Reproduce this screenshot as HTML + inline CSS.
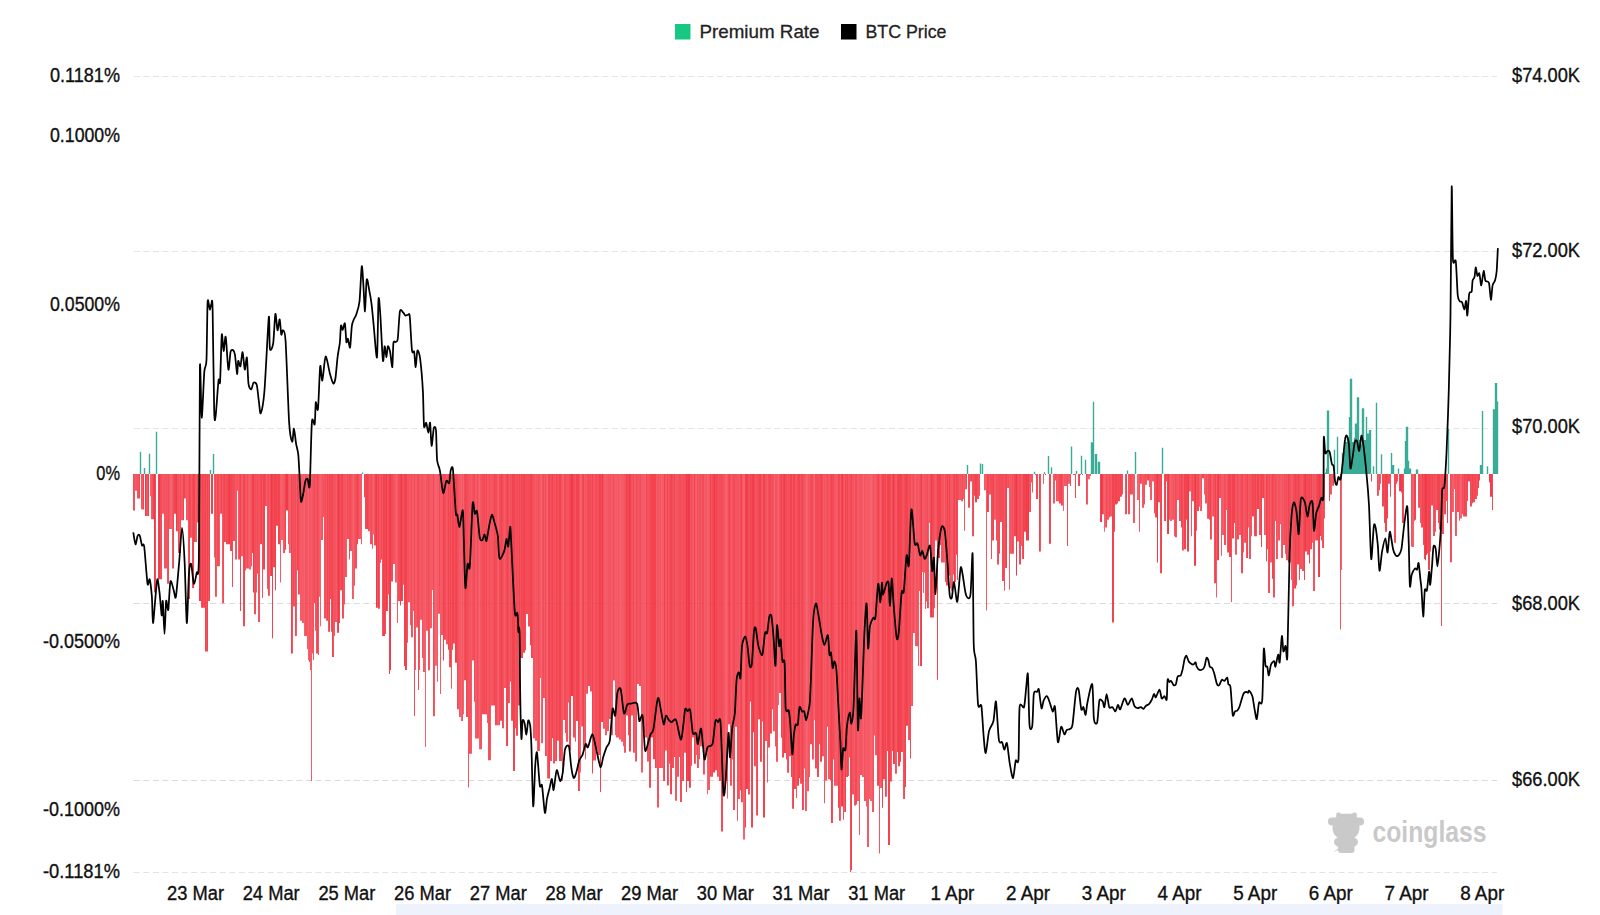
<!DOCTYPE html><html><head><meta charset="utf-8"><style>html,body{margin:0;padding:0;background:#fff;overflow:hidden}svg{display:block}text{font-family:"Liberation Sans",sans-serif}</style></head><body>
<svg width="1600" height="915" viewBox="0 0 1600 915">
<line x1="133.6" y1="76.5" x2="1497" y2="76.5" stroke="#e4e4e4" stroke-width="1" stroke-dasharray="6.25,3.3125"/>
<line x1="133.6" y1="251.5" x2="1497" y2="251.5" stroke="#e4e4e4" stroke-width="1" stroke-dasharray="6.25,3.3125"/>
<line x1="133.6" y1="428.5" x2="1497" y2="428.5" stroke="#e4e4e4" stroke-width="1" stroke-dasharray="6.25,3.3125"/>
<line x1="133.6" y1="603.5" x2="1497" y2="603.5" stroke="#e4e4e4" stroke-width="1" stroke-dasharray="6.25,3.3125"/>
<line x1="133.6" y1="780.5" x2="1497" y2="780.5" stroke="#e4e4e4" stroke-width="1" stroke-dasharray="6.25,3.3125"/>
<line x1="133.6" y1="872.5" x2="1497" y2="872.5" stroke="#e4e4e4" stroke-width="1" stroke-dasharray="6.25,3.3125"/>
<path d="M145 474.0h1v41.9h-1zM154 474.0h1v118.4h-1zM159 474.0h1v105.3h-1zM176 474.0h1v57.2h-1zM199 474.0h1v127.1h-1zM200 474.0h1v127.1h-1zM229 474.0h1v70.3h-1zM253 474.0h1v118.4h-1zM271 474.0h1v102.0h-1zM286 474.0h1v36.4h-1zM287 474.0h1v36.4h-1zM338 474.0h1v158.8h-1zM376 474.0h1v133.7h-1zM386 474.0h1v137.0h-1zM390 474.0h1v196.0h-1zM401 474.0h1v127.1h-1zM571 474.0h1v221.9h-1zM572 474.0h1v221.9h-1zM602 474.0h1v248.1h-1zM629 474.0h1v277.6h-1zM686 474.0h1v318.1h-1zM688 474.0h1v307.1h-1zM689 474.0h1v313.7h-1zM714 474.0h1v298.4h-1zM746 474.0h1v315.1h-1zM753 474.0h1v258.3h-1zM784 474.0h1v279.1h-1zM842 474.0h1v332.6h-1zM893 474.0h1v290.0h-1zM921 474.0h1v191.9h-1zM931 474.0h1v143.4h-1zM1016 474.0h1v101.5h-1zM1026 474.0h1v66.5h-1zM1028 474.0h1v66.5h-1zM1101 474.0h1v48.0h-1zM1102 474.0h1v40.3h-1zM1157 474.0h1v88.4h-1zM1168 474.0h1v60.0h-1zM1188 474.0h1v77.5h-1zM1195 474.0h1v91.7h-1zM1218 474.0h1v86.2h-1zM1305 474.0h1v77.5h-1zM1319 474.0h1v103.0h-1zM1400 474.0h1v17.3h-1zM1401 474.0h1v18.4h-1zM1425 474.0h1v86.2h-1zM1426 474.0h1v81.0h-1zM1489 474.0h1v8.6h-1zM1491 474.0h1v22.8h-1z" fill="#f03a49"/>
<path d="M139 474.0h1v24.4h-1zM143 474.0h1v35.6h-1zM148 474.0h1v41.9h-1zM153 474.0h1v45.2h-1zM158 474.0h1v105.3h-1zM174 474.0h1v39.7h-1zM175 474.0h1v39.7h-1zM183 474.0h1v46.3h-1zM184 474.0h1v24.4h-1zM189 474.0h1v125.0h-1zM193 474.0h1v114.0h-1zM194 474.0h1v68.1h-1zM198 474.0h1v48.5h-1zM202 474.0h1v133.7h-1zM205 474.0h1v177.4h-1zM207 474.0h1v177.4h-1zM209 474.0h1v127.1h-1zM211 474.0h1v39.7h-1zM212 474.0h1v39.7h-1zM221 474.0h1v39.7h-1zM224 474.0h1v68.1h-1zM228 474.0h1v70.3h-1zM231 474.0h1v76.9h-1zM240 474.0h1v137.0h-1zM244 474.0h1v152.3h-1zM252 474.0h1v79.1h-1zM261 474.0h1v70.3h-1zM263 474.0h1v95.5h-1zM264 474.0h1v95.5h-1zM272 474.0h1v164.3h-1zM274 474.0h1v93.3h-1zM275 474.0h1v116.2h-1zM276 474.0h1v51.7h-1zM278 474.0h1v70.3h-1zM279 474.0h1v70.3h-1zM285 474.0h1v75.8h-1zM291 474.0h1v179.6h-1zM297 474.0h1v96.5h-1zM317 474.0h1v179.6h-1zM327 474.0h1v146.8h-1zM329 474.0h1v157.7h-1zM332 474.0h1v182.9h-1zM339 474.0h1v149.0h-1zM341 474.0h1v116.2h-1zM342 474.0h1v144.6h-1zM357 474.0h1v70.3h-1zM364 474.0h1v23.3h-1zM366 474.0h1v55.0h-1zM367 474.0h1v55.0h-1zM375 474.0h1v71.4h-1zM378 474.0h1v134.8h-1zM383 474.0h1v162.1h-1zM384 474.0h1v162.1h-1zM389 474.0h1v200.0h-1zM400 474.0h1v131.5h-1zM404 474.0h1v192.0h-1zM405 474.0h1v196.0h-1zM406 474.0h1v196.0h-1zM443 474.0h1v186.4h-1zM448 474.0h1v175.7h-1zM450 474.0h1v193.3h-1zM452 474.0h1v175.7h-1zM453 474.0h1v169.5h-1zM455 474.0h1v188.7h-1zM456 474.0h1v188.7h-1zM465 474.0h1v206.3h-1zM486 474.0h1v240.3h-1zM494 474.0h1v231.6h-1zM501 474.0h1v246.7h-1zM507 474.0h1v271.9h-1zM512 474.0h1v246.7h-1zM513 474.0h1v297.0h-1zM514 474.0h1v297.0h-1zM519 474.0h1v231.6h-1zM521 474.0h1v183.9h-1zM523 474.0h1v178.8h-1zM524 474.0h1v178.8h-1zM530 474.0h1v171.3h-1zM531 474.0h1v183.9h-1zM549 474.0h1v304.5h-1zM552 474.0h1v264.3h-1zM556 474.0h1v286.9h-1zM559 474.0h1v286.9h-1zM560 474.0h1v286.9h-1zM570 474.0h1v276.5h-1zM576 474.0h1v247.0h-1zM577 474.0h1v247.0h-1zM578 474.0h1v317.0h-1zM583 474.0h1v274.4h-1zM592 474.0h1v299.5h-1zM599 474.0h1v280.9h-1zM600 474.0h1v318.1h-1zM626 474.0h1v241.6h-1zM627 474.0h1v241.6h-1zM630 474.0h1v277.6h-1zM646 474.0h1v263.4h-1zM651 474.0h1v263.4h-1zM652 474.0h1v263.4h-1zM653 474.0h1v285.3h-1zM654 474.0h1v285.3h-1zM655 474.0h1v294.0h-1zM664 474.0h1v307.1h-1zM667 474.0h1v311.5h-1zM671 474.0h1v320.3h-1zM674 474.0h1v283.1h-1zM687 474.0h1v307.1h-1zM694 474.0h1v289.7h-1zM710 474.0h1v302.8h-1zM713 474.0h1v298.4h-1zM716 474.0h1v296.2h-1zM729 474.0h1v250.3h-1zM741 474.0h1v328.2h-1zM745 474.0h1v353.4h-1zM747 474.0h1v315.1h-1zM750 474.0h1v227.7h-1zM752 474.0h1v353.4h-1zM759 474.0h1v245.2h-1zM760 474.0h1v287.8h-1zM763 474.0h1v343.5h-1zM764 474.0h1v343.5h-1zM770 474.0h1v259.4h-1zM781 474.0h1v263.8h-1zM783 474.0h1v283.4h-1zM790 474.0h1v282.3h-1zM791 474.0h1v303.1h-1zM793 474.0h1v334.8h-1zM794 474.0h1v315.1h-1zM798 474.0h1v311.8h-1zM799 474.0h1v304.2h-1zM802 474.0h1v335.9h-1zM821 474.0h1v287.8h-1zM831 474.0h1v349.0h-1zM838 474.0h1v333.7h-1zM841 474.0h1v332.6h-1zM845 474.0h1v338.1h-1zM847 474.0h1v303.1h-1zM851 474.0h1v396.0h-1zM878 474.0h1v311.8h-1zM882 474.0h1v333.7h-1zM883 474.0h1v305.3h-1zM885 474.0h1v322.8h-1zM887 474.0h1v276.9h-1zM888 474.0h1v370.9h-1zM889 474.0h1v370.9h-1zM897 474.0h1v278.0h-1zM898 474.0h1v292.2h-1zM899 474.0h1v292.2h-1zM900 474.0h1v287.8h-1zM901 474.0h1v278.0h-1zM905 474.0h1v312.9h-1zM906 474.0h1v251.7h-1zM907 474.0h1v251.7h-1zM937 474.0h1v205.8h-1zM938 474.0h1v84.0h-1zM939 474.0h1v84.0h-1zM940 474.0h1v70.9h-1zM947 474.0h1v111.4h-1zM949 474.0h1v101.5h-1zM954 474.0h1v108.1h-1zM956 474.0h1v80.8h-1zM966 474.0h1v15.2h-1zM971 474.0h1v7.5h-1zM975 474.0h1v28.3h-1zM976 474.0h1v28.3h-1zM987 474.0h1v38.1h-1zM993 474.0h1v66.5h-1zM1006 474.0h1v93.9h-1zM1014 474.0h1v62.2h-1zM1015 474.0h1v62.2h-1zM1023 474.0h1v85.1h-1zM1024 474.0h1v57.8h-1zM1025 474.0h1v57.8h-1zM1027 474.0h1v66.5h-1zM1039 474.0h1v77.5h-1zM1045 474.0h1v1.0h-1zM1049 474.0h1v69.8h-1zM1061 474.0h1v31.6h-1zM1079 474.0h1v11.9h-1zM1100 474.0h1v48.0h-1zM1112 474.0h1v148.5h-1zM1113 474.0h1v148.5h-1zM1115 474.0h1v30.5h-1zM1116 474.0h1v30.5h-1zM1118 474.0h1v27.2h-1zM1120 474.0h1v22.8h-1zM1126 474.0h1v40.3h-1zM1148 474.0h1v6.4h-1zM1156 474.0h1v43.6h-1zM1161 474.0h1v99.3h-1zM1165 474.0h1v46.9h-1zM1167 474.0h1v60.0h-1zM1181 474.0h1v53.4h-1zM1184 474.0h1v75.3h-1zM1185 474.0h1v75.3h-1zM1186 474.0h1v45.8h-1zM1187 474.0h1v77.5h-1zM1194 474.0h1v91.7h-1zM1203 474.0h1v4.3h-1zM1210 474.0h1v65.5h-1zM1215 474.0h1v109.2h-1zM1217 474.0h1v86.2h-1zM1228 474.0h1v78.6h-1zM1229 474.0h1v82.9h-1zM1230 474.0h1v82.9h-1zM1232 474.0h1v64.4h-1zM1233 474.0h1v64.4h-1zM1234 474.0h1v49.1h-1zM1242 474.0h1v99.3h-1zM1247 474.0h1v84.0h-1zM1252 474.0h1v42.5h-1zM1255 474.0h1v62.2h-1zM1257 474.0h1v34.9h-1zM1258 474.0h1v34.9h-1zM1261 474.0h1v73.1h-1zM1263 474.0h1v23.9h-1zM1266 474.0h1v87.3h-1zM1272 474.0h1v104.8h-1zM1288 474.0h1v88.4h-1zM1295 474.0h1v114.6h-1zM1298 474.0h1v90.6h-1zM1304 474.0h1v105.9h-1zM1309 474.0h1v89.5h-1zM1311 474.0h1v75.2h-1zM1317 474.0h1v66.5h-1zM1318 474.0h1v103.0h-1zM1320 474.0h1v62.1h-1zM1329 474.0h1v27.1h-1zM1333 474.0h1v11.8h-1zM1371 474.0h1v7.5h-1zM1383 474.0h1v32.6h-1zM1385 474.0h1v57.7h-1zM1386 474.0h1v57.7h-1zM1387 474.0h1v44.6h-1zM1396 474.0h1v9.7h-1zM1399 474.0h1v17.3h-1zM1402 474.0h1v49.0h-1zM1414 474.0h1v46.8h-1zM1415 474.0h1v45.7h-1zM1422 474.0h1v53.4h-1zM1424 474.0h1v85.0h-1zM1428 474.0h1v96.0h-1zM1429 474.0h1v96.0h-1zM1432 474.0h1v31.5h-1zM1437 474.0h1v35.9h-1zM1438 474.0h1v49.0h-1zM1439 474.0h1v55.6h-1zM1445 474.0h1v40.3h-1zM1447 474.0h1v49.0h-1zM1464 474.0h1v42.4h-1zM1467 474.0h1v27.1h-1zM1468 474.0h1v7.5h-1zM1469 474.0h1v7.5h-1zM1472 474.0h1v29.3h-1zM1475 474.0h1v25.0h-1zM1478 474.0h1v14.0h-1zM1479 474.0h1v6.4h-1zM1490 474.0h1v22.8h-1z" fill="#f2434f"/>
<path d="M133 474.0h1v36.4h-1zM155 474.0h1v118.4h-1zM160 474.0h1v105.3h-1zM161 474.0h1v105.3h-1zM168 474.0h1v109.7h-1zM173 474.0h1v94.4h-1zM178 474.0h1v79.1h-1zM180 474.0h1v79.1h-1zM190 474.0h1v63.8h-1zM192 474.0h1v114.0h-1zM197 474.0h1v48.5h-1zM203 474.0h1v133.7h-1zM204 474.0h1v133.7h-1zM215 474.0h1v122.8h-1zM217 474.0h1v92.2h-1zM218 474.0h1v92.2h-1zM223 474.0h1v129.3h-1zM226 474.0h1v70.3h-1zM227 474.0h1v70.3h-1zM230 474.0h1v76.9h-1zM232 474.0h1v112.9h-1zM233 474.0h1v67.0h-1zM234 474.0h1v67.0h-1zM239 474.0h1v85.6h-1zM243 474.0h1v152.3h-1zM247 474.0h1v94.4h-1zM255 474.0h1v140.3h-1zM257 474.0h1v99.8h-1zM260 474.0h1v70.3h-1zM265 474.0h1v32.1h-1zM268 474.0h1v121.7h-1zM270 474.0h1v102.0h-1zM273 474.0h1v93.3h-1zM277 474.0h1v51.7h-1zM293 474.0h1v132.6h-1zM295 474.0h1v162.1h-1zM298 474.0h1v120.6h-1zM314 474.0h1v129.3h-1zM325 474.0h1v144.6h-1zM330 474.0h1v125.0h-1zM331 474.0h1v157.7h-1zM337 474.0h1v158.8h-1zM347 474.0h1v64.9h-1zM349 474.0h1v85.6h-1zM350 474.0h1v76.9h-1zM356 474.0h1v94.4h-1zM358 474.0h1v64.9h-1zM365 474.0h1v55.0h-1zM368 474.0h1v57.2h-1zM371 474.0h1v70.3h-1zM381 474.0h1v85.6h-1zM385 474.0h1v159.9h-1zM388 474.0h1v120.6h-1zM391 474.0h1v107.5h-1zM392 474.0h1v107.5h-1zM398 474.0h1v127.1h-1zM399 474.0h1v127.1h-1zM402 474.0h1v127.1h-1zM411 474.0h1v163.2h-1zM414 474.0h1v242.0h-1zM417 474.0h1v153.4h-1zM418 474.0h1v216.0h-1zM428 474.0h1v196.3h-1zM433 474.0h1v242.2h-1zM439 474.0h1v139.7h-1zM444 474.0h1v165.7h-1zM445 474.0h1v165.7h-1zM457 474.0h1v235.3h-1zM464 474.0h1v206.3h-1zM466 474.0h1v243.0h-1zM467 474.0h1v243.0h-1zM473 474.0h1v186.4h-1zM474 474.0h1v227.7h-1zM477 474.0h1v264.4h-1zM482 474.0h1v240.3h-1zM483 474.0h1v240.3h-1zM484 474.0h1v240.3h-1zM489 474.0h1v286.2h-1zM495 474.0h1v251.2h-1zM496 474.0h1v251.2h-1zM499 474.0h1v251.2h-1zM500 474.0h1v246.7h-1zM502 474.0h1v254.3h-1zM506 474.0h1v271.9h-1zM508 474.0h1v229.1h-1zM510 474.0h1v207.8h-1zM516 474.0h1v261.8h-1zM517 474.0h1v261.8h-1zM522 474.0h1v183.9h-1zM525 474.0h1v176.3h-1zM526 474.0h1v139.9h-1zM527 474.0h1v139.9h-1zM528 474.0h1v152.5h-1zM529 474.0h1v152.5h-1zM532 474.0h1v183.9h-1zM538 474.0h1v276.9h-1zM543 474.0h1v224.1h-1zM545 474.0h1v281.9h-1zM548 474.0h1v304.5h-1zM551 474.0h1v286.9h-1zM554 474.0h1v289.5h-1zM557 474.0h1v266.8h-1zM564 474.0h1v245.9h-1zM565 474.0h1v259.1h-1zM569 474.0h1v276.5h-1zM573 474.0h1v263.4h-1zM574 474.0h1v263.4h-1zM582 474.0h1v252.5h-1zM587 474.0h1v219.7h-1zM588 474.0h1v212.1h-1zM589 474.0h1v212.1h-1zM590 474.0h1v217.5h-1zM595 474.0h1v286.4h-1zM596 474.0h1v276.5h-1zM598 474.0h1v280.9h-1zM601 474.0h1v248.1h-1zM613 474.0h1v206.6h-1zM628 474.0h1v261.2h-1zM633 474.0h1v278.7h-1zM636 474.0h1v287.5h-1zM640 474.0h1v212.1h-1zM649 474.0h1v313.7h-1zM650 474.0h1v313.7h-1zM669 474.0h1v289.7h-1zM670 474.0h1v320.3h-1zM672 474.0h1v294.0h-1zM679 474.0h1v283.1h-1zM680 474.0h1v327.9h-1zM683 474.0h1v307.1h-1zM685 474.0h1v278.7h-1zM691 474.0h1v291.8h-1zM697 474.0h1v294.0h-1zM700 474.0h1v272.2h-1zM702 474.0h1v272.2h-1zM703 474.0h1v300.6h-1zM712 474.0h1v302.8h-1zM715 474.0h1v296.2h-1zM717 474.0h1v302.8h-1zM719 474.0h1v307.1h-1zM720 474.0h1v307.1h-1zM721 474.0h1v357.4h-1zM722 474.0h1v357.4h-1zM728 474.0h1v250.3h-1zM733 474.0h1v335.9h-1zM734 474.0h1v335.9h-1zM740 474.0h1v316.2h-1zM748 474.0h1v320.6h-1zM751 474.0h1v353.4h-1zM754 474.0h1v292.2h-1zM757 474.0h1v341.4h-1zM758 474.0h1v245.2h-1zM768 474.0h1v273.6h-1zM769 474.0h1v273.6h-1zM772 474.0h1v235.3h-1zM780 474.0h1v219.0h-1zM785 474.0h1v279.1h-1zM786 474.0h1v285.6h-1zM788 474.0h1v298.7h-1zM797 474.0h1v311.8h-1zM801 474.0h1v309.7h-1zM810 474.0h1v270.3h-1zM811 474.0h1v270.3h-1zM812 474.0h1v285.6h-1zM815 474.0h1v294.4h-1zM816 474.0h1v294.4h-1zM817 474.0h1v303.1h-1zM818 474.0h1v303.1h-1zM819 474.0h1v270.3h-1zM820 474.0h1v287.8h-1zM822 474.0h1v282.3h-1zM827 474.0h1v252.8h-1zM830 474.0h1v306.4h-1zM832 474.0h1v349.0h-1zM833 474.0h1v285.6h-1zM839 474.0h1v346.8h-1zM850 474.0h1v398.0h-1zM855 474.0h1v331.5h-1zM856 474.0h1v330.4h-1zM877 474.0h1v311.8h-1zM884 474.0h1v305.3h-1zM890 474.0h1v307.5h-1zM892 474.0h1v276.9h-1zM894 474.0h1v290.0h-1zM904 474.0h1v325.0h-1zM909 474.0h1v265.9h-1zM910 474.0h1v284.5h-1zM913 474.0h1v159.1h-1zM920 474.0h1v191.9h-1zM927 474.0h1v134.2h-1zM930 474.0h1v143.4h-1zM932 474.0h1v143.5h-1zM933 474.0h1v143.5h-1zM945 474.0h1v108.1h-1zM953 474.0h1v100.4h-1zM957 474.0h1v105.9h-1zM958 474.0h1v26.1h-1zM962 474.0h1v27.2h-1zM968 474.0h1v33.8h-1zM969 474.0h1v33.8h-1zM973 474.0h1v62.2h-1zM974 474.0h1v21.7h-1zM977 474.0h1v25.0h-1zM979 474.0h1v21.7h-1zM988 474.0h1v38.1h-1zM990 474.0h1v20.6h-1zM991 474.0h1v85.1h-1zM992 474.0h1v66.5h-1zM996 474.0h1v66.5h-1zM998 474.0h1v90.6h-1zM999 474.0h1v79.7h-1zM1000 474.0h1v48.0h-1zM1001 474.0h1v48.0h-1zM1002 474.0h1v107.0h-1zM1003 474.0h1v107.0h-1zM1005 474.0h1v93.9h-1zM1008 474.0h1v14.1h-1zM1012 474.0h1v79.7h-1zM1017 474.0h1v67.6h-1zM1019 474.0h1v90.6h-1zM1020 474.0h1v90.6h-1zM1036 474.0h1v25.0h-1zM1037 474.0h1v25.0h-1zM1050 474.0h1v69.8h-1zM1055 474.0h1v6.4h-1zM1059 474.0h1v29.4h-1zM1060 474.0h1v29.4h-1zM1067 474.0h1v72.0h-1zM1070 474.0h1v11.9h-1zM1073 474.0h1v1.0h-1zM1075 474.0h1v23.9h-1zM1078 474.0h1v11.9h-1zM1086 474.0h1v30.5h-1zM1106 474.0h1v53.4h-1zM1109 474.0h1v43.6h-1zM1114 474.0h1v57.8h-1zM1117 474.0h1v29.4h-1zM1119 474.0h1v27.2h-1zM1121 474.0h1v22.8h-1zM1122 474.0h1v20.6h-1zM1130 474.0h1v20.6h-1zM1140 474.0h1v9.7h-1zM1145 474.0h1v10.8h-1zM1147 474.0h1v6.4h-1zM1154 474.0h1v39.2h-1zM1158 474.0h1v28.3h-1zM1159 474.0h1v28.3h-1zM1160 474.0h1v99.3h-1zM1164 474.0h1v46.9h-1zM1166 474.0h1v7.5h-1zM1175 474.0h1v63.3h-1zM1179 474.0h1v46.9h-1zM1182 474.0h1v76.4h-1zM1192 474.0h1v27.2h-1zM1197 474.0h1v37.0h-1zM1198 474.0h1v37.0h-1zM1202 474.0h1v4.3h-1zM1206 474.0h1v29.4h-1zM1208 474.0h1v44.7h-1zM1209 474.0h1v45.8h-1zM1213 474.0h1v42.5h-1zM1220 474.0h1v23.9h-1zM1224 474.0h1v70.9h-1zM1237 474.0h1v65.5h-1zM1241 474.0h1v99.3h-1zM1245 474.0h1v68.7h-1zM1253 474.0h1v42.5h-1zM1254 474.0h1v62.2h-1zM1260 474.0h1v61.1h-1zM1262 474.0h1v23.9h-1zM1267 474.0h1v75.3h-1zM1269 474.0h1v119.0h-1zM1273 474.0h1v123.4h-1zM1275 474.0h1v46.9h-1zM1284 474.0h1v70.9h-1zM1286 474.0h1v86.2h-1zM1289 474.0h1v88.4h-1zM1293 474.0h1v132.1h-1zM1294 474.0h1v114.6h-1zM1296 474.0h1v111.4h-1zM1297 474.0h1v90.6h-1zM1299 474.0h1v105.9h-1zM1303 474.0h1v97.1h-1zM1306 474.0h1v77.5h-1zM1307 474.0h1v80.8h-1zM1308 474.0h1v80.8h-1zM1316 474.0h1v66.5h-1zM1321 474.0h1v66.5h-1zM1323 474.0h1v74.1h-1zM1377 474.0h1v21.7h-1zM1379 474.0h1v16.2h-1zM1382 474.0h1v32.6h-1zM1384 474.0h1v49.0h-1zM1388 474.0h1v9.7h-1zM1389 474.0h1v9.7h-1zM1390 474.0h1v22.8h-1zM1394 474.0h1v68.7h-1zM1395 474.0h1v68.7h-1zM1403 474.0h1v49.0h-1zM1419 474.0h1v33.7h-1zM1423 474.0h1v70.9h-1zM1427 474.0h1v79.6h-1zM1430 474.0h1v77.4h-1zM1431 474.0h1v31.5h-1zM1434 474.0h1v62.1h-1zM1441 474.0h1v152.0h-1zM1442 474.0h1v59.9h-1zM1444 474.0h1v40.3h-1zM1446 474.0h1v27.1h-1zM1450 474.0h1v88.3h-1zM1457 474.0h1v38.1h-1zM1462 474.0h1v40.3h-1zM1465 474.0h1v42.4h-1zM1466 474.0h1v42.4h-1zM1470 474.0h1v32.6h-1zM1471 474.0h1v32.6h-1zM1473 474.0h1v28.2h-1zM1474 474.0h1v28.2h-1zM1477 474.0h1v21.7h-1zM1492 474.0h1v35.9h-1z" fill="#f34b58"/>
<path d="M134 474.0h1v36.4h-1zM136 474.0h1v16.8h-1zM137 474.0h1v24.4h-1zM138 474.0h1v24.4h-1zM141 474.0h1v35.3h-1zM146 474.0h1v41.9h-1zM147 474.0h1v41.9h-1zM152 474.0h1v45.2h-1zM163 474.0h1v39.7h-1zM164 474.0h1v94.4h-1zM165 474.0h1v94.4h-1zM166 474.0h1v94.4h-1zM167 474.0h1v109.7h-1zM177 474.0h1v57.2h-1zM186 474.0h1v46.3h-1zM188 474.0h1v125.0h-1zM201 474.0h1v133.7h-1zM206 474.0h1v177.4h-1zM208 474.0h1v127.1h-1zM220 474.0h1v39.7h-1zM225 474.0h1v68.1h-1zM236 474.0h1v85.6h-1zM237 474.0h1v16.8h-1zM245 474.0h1v96.5h-1zM251 474.0h1v92.2h-1zM254 474.0h1v140.3h-1zM256 474.0h1v118.4h-1zM258 474.0h1v147.9h-1zM259 474.0h1v147.9h-1zM262 474.0h1v123.9h-1zM267 474.0h1v115.1h-1zM284 474.0h1v79.1h-1zM288 474.0h1v70.3h-1zM292 474.0h1v179.6h-1zM294 474.0h1v132.6h-1zM299 474.0h1v120.6h-1zM305 474.0h1v162.1h-1zM306 474.0h1v162.1h-1zM309 474.0h1v188.0h-1zM312 474.0h1v179.6h-1zM313 474.0h1v186.0h-1zM315 474.0h1v156.7h-1zM316 474.0h1v179.6h-1zM318 474.0h1v181.0h-1zM322 474.0h1v65.9h-1zM323 474.0h1v43.0h-1zM324 474.0h1v144.6h-1zM328 474.0h1v157.7h-1zM333 474.0h1v182.9h-1zM334 474.0h1v162.1h-1zM335 474.0h1v147.9h-1zM340 474.0h1v116.2h-1zM343 474.0h1v144.6h-1zM344 474.0h1v130.4h-1zM345 474.0h1v103.1h-1zM348 474.0h1v64.9h-1zM351 474.0h1v76.9h-1zM354 474.0h1v111.8h-1zM355 474.0h1v94.4h-1zM369 474.0h1v57.2h-1zM370 474.0h1v70.3h-1zM374 474.0h1v71.4h-1zM377 474.0h1v133.7h-1zM379 474.0h1v134.8h-1zM380 474.0h1v88.9h-1zM382 474.0h1v162.1h-1zM387 474.0h1v137.0h-1zM393 474.0h1v90.0h-1zM394 474.0h1v90.0h-1zM403 474.0h1v110.8h-1zM407 474.0h1v168.7h-1zM408 474.0h1v128.2h-1zM409 474.0h1v128.2h-1zM419 474.0h1v196.0h-1zM421 474.0h1v145.8h-1zM422 474.0h1v184.1h-1zM426 474.0h1v156.7h-1zM427 474.0h1v156.5h-1zM429 474.0h1v196.3h-1zM442 474.0h1v161.1h-1zM447 474.0h1v170.3h-1zM449 474.0h1v193.3h-1zM451 474.0h1v214.7h-1zM454 474.0h1v169.5h-1zM458 474.0h1v235.3h-1zM462 474.0h1v246.9h-1zM468 474.0h1v313.5h-1zM469 474.0h1v279.7h-1zM470 474.0h1v279.7h-1zM472 474.0h1v186.4h-1zM480 474.0h1v275.3h-1zM481 474.0h1v275.3h-1zM485 474.0h1v240.3h-1zM488 474.0h1v286.2h-1zM491 474.0h1v231.6h-1zM492 474.0h1v231.6h-1zM493 474.0h1v231.6h-1zM503 474.0h1v254.3h-1zM505 474.0h1v214.0h-1zM511 474.0h1v246.7h-1zM515 474.0h1v254.3h-1zM518 474.0h1v231.6h-1zM520 474.0h1v183.9h-1zM533 474.0h1v264.3h-1zM534 474.0h1v264.3h-1zM536 474.0h1v266.8h-1zM539 474.0h1v276.9h-1zM542 474.0h1v269.3h-1zM550 474.0h1v286.9h-1zM553 474.0h1v289.5h-1zM558 474.0h1v266.8h-1zM561 474.0h1v286.9h-1zM566 474.0h1v267.8h-1zM567 474.0h1v267.8h-1zM568 474.0h1v228.5h-1zM575 474.0h1v267.8h-1zM579 474.0h1v317.0h-1zM585 474.0h1v285.3h-1zM591 474.0h1v217.5h-1zM593 474.0h1v286.4h-1zM597 474.0h1v276.5h-1zM603 474.0h1v254.7h-1zM608 474.0h1v256.9h-1zM609 474.0h1v244.9h-1zM610 474.0h1v244.9h-1zM618 474.0h1v263.4h-1zM624 474.0h1v278.7h-1zM625 474.0h1v278.7h-1zM631 474.0h1v241.6h-1zM632 474.0h1v241.6h-1zM637 474.0h1v209.9h-1zM638 474.0h1v209.9h-1zM639 474.0h1v212.1h-1zM647 474.0h1v287.5h-1zM648 474.0h1v287.5h-1zM657 474.0h1v333.4h-1zM658 474.0h1v333.4h-1zM660 474.0h1v294.0h-1zM665 474.0h1v276.5h-1zM673 474.0h1v294.0h-1zM676 474.0h1v326.8h-1zM677 474.0h1v302.8h-1zM678 474.0h1v302.8h-1zM681 474.0h1v327.9h-1zM682 474.0h1v307.1h-1zM684 474.0h1v278.7h-1zM690 474.0h1v313.7h-1zM699 474.0h1v285.3h-1zM706 474.0h1v280.9h-1zM711 474.0h1v302.8h-1zM718 474.0h1v302.8h-1zM723 474.0h1v315.9h-1zM724 474.0h1v315.9h-1zM730 474.0h1v311.8h-1zM732 474.0h1v285.6h-1zM735 474.0h1v252.8h-1zM736 474.0h1v252.8h-1zM737 474.0h1v346.8h-1zM738 474.0h1v325.0h-1zM749 474.0h1v320.6h-1zM755 474.0h1v292.2h-1zM756 474.0h1v341.4h-1zM761 474.0h1v287.8h-1zM765 474.0h1v267.0h-1zM766 474.0h1v267.0h-1zM771 474.0h1v259.4h-1zM773 474.0h1v257.2h-1zM775 474.0h1v272.5h-1zM776 474.0h1v287.8h-1zM779 474.0h1v219.0h-1zM782 474.0h1v283.4h-1zM787 474.0h1v298.7h-1zM789 474.0h1v282.3h-1zM792 474.0h1v334.8h-1zM795 474.0h1v315.1h-1zM796 474.0h1v323.9h-1zM800 474.0h1v309.7h-1zM803 474.0h1v335.9h-1zM804 474.0h1v294.4h-1zM808 474.0h1v317.3h-1zM824 474.0h1v329.3h-1zM826 474.0h1v306.4h-1zM828 474.0h1v305.3h-1zM834 474.0h1v311.8h-1zM843 474.0h1v345.7h-1zM846 474.0h1v303.1h-1zM848 474.0h1v302.0h-1zM849 474.0h1v283.4h-1zM852 474.0h1v320.6h-1zM853 474.0h1v320.6h-1zM859 474.0h1v361.0h-1zM860 474.0h1v300.9h-1zM861 474.0h1v300.9h-1zM864 474.0h1v327.1h-1zM873 474.0h1v338.1h-1zM876 474.0h1v281.2h-1zM879 474.0h1v379.6h-1zM881 474.0h1v314.0h-1zM895 474.0h1v299.8h-1zM902 474.0h1v278.0h-1zM903 474.0h1v325.0h-1zM908 474.0h1v265.9h-1zM912 474.0h1v232.1h-1zM916 474.0h1v172.2h-1zM917 474.0h1v172.2h-1zM919 474.0h1v117.1h-1zM924 474.0h1v98.8h-1zM925 474.0h1v135.0h-1zM926 474.0h1v127.6h-1zM934 474.0h1v134.3h-1zM936 474.0h1v66.5h-1zM941 474.0h1v88.4h-1zM942 474.0h1v88.4h-1zM943 474.0h1v88.4h-1zM946 474.0h1v111.4h-1zM948 474.0h1v101.5h-1zM950 474.0h1v114.6h-1zM955 474.0h1v108.1h-1zM960 474.0h1v26.1h-1zM964 474.0h1v56.7h-1zM970 474.0h1v7.5h-1zM972 474.0h1v62.2h-1zM978 474.0h1v25.0h-1zM989 474.0h1v20.6h-1zM997 474.0h1v90.6h-1zM1004 474.0h1v116.8h-1zM1007 474.0h1v14.1h-1zM1010 474.0h1v79.7h-1zM1018 474.0h1v67.6h-1zM1022 474.0h1v85.1h-1zM1029 474.0h1v38.1h-1zM1030 474.0h1v38.1h-1zM1031 474.0h1v8.6h-1zM1032 474.0h1v18.5h-1zM1035 474.0h1v1.0h-1zM1040 474.0h1v77.5h-1zM1056 474.0h1v27.2h-1zM1058 474.0h1v27.2h-1zM1062 474.0h1v31.6h-1zM1064 474.0h1v11.9h-1zM1074 474.0h1v1.0h-1zM1107 474.0h1v45.8h-1zM1110 474.0h1v42.5h-1zM1125 474.0h1v40.3h-1zM1128 474.0h1v40.3h-1zM1129 474.0h1v40.3h-1zM1131 474.0h1v20.6h-1zM1132 474.0h1v20.6h-1zM1139 474.0h1v57.8h-1zM1141 474.0h1v9.7h-1zM1143 474.0h1v33.8h-1zM1144 474.0h1v30.5h-1zM1149 474.0h1v13.0h-1zM1152 474.0h1v7.5h-1zM1155 474.0h1v43.6h-1zM1169 474.0h1v45.8h-1zM1173 474.0h1v45.8h-1zM1176 474.0h1v63.3h-1zM1177 474.0h1v26.1h-1zM1180 474.0h1v46.9h-1zM1189 474.0h1v17.4h-1zM1191 474.0h1v62.2h-1zM1193 474.0h1v27.2h-1zM1196 474.0h1v56.7h-1zM1201 474.0h1v37.0h-1zM1214 474.0h1v109.2h-1zM1219 474.0h1v23.9h-1zM1225 474.0h1v70.9h-1zM1227 474.0h1v78.6h-1zM1231 474.0h1v128.0h-1zM1235 474.0h1v80.8h-1zM1238 474.0h1v65.5h-1zM1240 474.0h1v61.1h-1zM1246 474.0h1v84.0h-1zM1249 474.0h1v85.1h-1zM1250 474.0h1v85.1h-1zM1251 474.0h1v62.2h-1zM1256 474.0h1v62.2h-1zM1259 474.0h1v61.1h-1zM1268 474.0h1v119.0h-1zM1271 474.0h1v88.4h-1zM1274 474.0h1v123.4h-1zM1276 474.0h1v85.1h-1zM1278 474.0h1v66.5h-1zM1279 474.0h1v66.5h-1zM1282 474.0h1v84.0h-1zM1285 474.0h1v79.7h-1zM1287 474.0h1v86.2h-1zM1290 474.0h1v88.4h-1zM1300 474.0h1v95.0h-1zM1301 474.0h1v95.0h-1zM1310 474.0h1v75.2h-1zM1313 474.0h1v117.0h-1zM1314 474.0h1v117.0h-1zM1322 474.0h1v74.0h-1zM1324 474.0h1v44.6h-1zM1330 474.0h1v20.6h-1zM1340 474.0h1v155.6h-1zM1397 474.0h1v7.5h-1zM1411 474.0h1v72.5h-1zM1418 474.0h1v33.7h-1zM1420 474.0h1v49.0h-1zM1421 474.0h1v53.4h-1zM1433 474.0h1v62.1h-1zM1435 474.0h1v57.7h-1zM1436 474.0h1v35.9h-1zM1440 474.0h1v55.6h-1zM1451 474.0h1v88.3h-1zM1454 474.0h1v15.1h-1zM1455 474.0h1v62.1h-1zM1458 474.0h1v38.1h-1zM1459 474.0h1v46.8h-1zM1463 474.0h1v42.4h-1zM1476 474.0h1v25.0h-1z" fill="#f45360"/>
<path d="M135 474.0h1v16.8h-1zM142 474.0h1v35.6h-1zM151 474.0h1v45.2h-1zM162 474.0h1v39.7h-1zM169 474.0h1v55.0h-1zM172 474.0h1v94.4h-1zM179 474.0h1v79.1h-1zM181 474.0h1v46.3h-1zM182 474.0h1v46.3h-1zM185 474.0h1v24.4h-1zM187 474.0h1v46.3h-1zM191 474.0h1v63.8h-1zM195 474.0h1v68.1h-1zM196 474.0h1v68.1h-1zM214 474.0h1v83.4h-1zM216 474.0h1v122.8h-1zM219 474.0h1v92.2h-1zM222 474.0h1v129.3h-1zM235 474.0h1v85.6h-1zM238 474.0h1v85.6h-1zM241 474.0h1v82.3h-1zM242 474.0h1v82.3h-1zM246 474.0h1v94.4h-1zM248 474.0h1v94.4h-1zM250 474.0h1v95.5h-1zM266 474.0h1v32.1h-1zM269 474.0h1v121.7h-1zM280 474.0h1v108.6h-1zM282 474.0h1v65.9h-1zM283 474.0h1v79.1h-1zM289 474.0h1v79.1h-1zM296 474.0h1v162.1h-1zM300 474.0h1v146.8h-1zM301 474.0h1v146.8h-1zM302 474.0h1v149.0h-1zM303 474.0h1v149.0h-1zM307 474.0h1v175.2h-1zM310 474.0h1v196.0h-1zM311 474.0h1v307.0h-1zM319 474.0h1v122.8h-1zM321 474.0h1v65.9h-1zM326 474.0h1v146.8h-1zM336 474.0h1v147.9h-1zM346 474.0h1v103.1h-1zM352 474.0h1v125.0h-1zM359 474.0h1v64.9h-1zM360 474.0h1v64.9h-1zM361 474.0h1v70.3h-1zM372 474.0h1v74.7h-1zM395 474.0h1v108.6h-1zM397 474.0h1v149.0h-1zM410 474.0h1v151.2h-1zM412 474.0h1v163.2h-1zM413 474.0h1v137.0h-1zM415 474.0h1v196.0h-1zM416 474.0h1v153.4h-1zM420 474.0h1v145.8h-1zM423 474.0h1v197.9h-1zM424 474.0h1v197.9h-1zM430 474.0h1v154.2h-1zM431 474.0h1v154.2h-1zM432 474.0h1v116.0h-1zM434 474.0h1v242.2h-1zM437 474.0h1v207.8h-1zM438 474.0h1v139.7h-1zM440 474.0h1v220.0h-1zM441 474.0h1v161.1h-1zM446 474.0h1v170.3h-1zM459 474.0h1v243.0h-1zM460 474.0h1v243.0h-1zM471 474.0h1v279.7h-1zM475 474.0h1v264.4h-1zM476 474.0h1v264.4h-1zM478 474.0h1v264.4h-1zM487 474.0h1v249.1h-1zM490 474.0h1v286.2h-1zM497 474.0h1v251.2h-1zM504 474.0h1v214.0h-1zM509 474.0h1v229.1h-1zM535 474.0h1v266.8h-1zM537 474.0h1v276.9h-1zM540 474.0h1v204.0h-1zM544 474.0h1v224.1h-1zM546 474.0h1v281.9h-1zM555 474.0h1v286.9h-1zM562 474.0h1v307.1h-1zM584 474.0h1v274.4h-1zM586 474.0h1v219.7h-1zM594 474.0h1v286.4h-1zM604 474.0h1v254.7h-1zM605 474.0h1v261.2h-1zM606 474.0h1v261.2h-1zM607 474.0h1v256.9h-1zM611 474.0h1v261.2h-1zM612 474.0h1v261.2h-1zM614 474.0h1v206.6h-1zM615 474.0h1v261.2h-1zM616 474.0h1v263.4h-1zM617 474.0h1v263.4h-1zM619 474.0h1v265.6h-1zM621 474.0h1v267.8h-1zM622 474.0h1v267.8h-1zM623 474.0h1v272.2h-1zM634 474.0h1v278.7h-1zM635 474.0h1v287.5h-1zM641 474.0h1v298.4h-1zM642 474.0h1v298.4h-1zM643 474.0h1v259.1h-1zM644 474.0h1v259.1h-1zM656 474.0h1v294.0h-1zM659 474.0h1v294.0h-1zM662 474.0h1v294.0h-1zM663 474.0h1v307.1h-1zM666 474.0h1v276.5h-1zM668 474.0h1v311.5h-1zM675 474.0h1v326.8h-1zM692 474.0h1v263.4h-1zM693 474.0h1v263.4h-1zM695 474.0h1v289.7h-1zM698 474.0h1v294.0h-1zM701 474.0h1v272.2h-1zM704 474.0h1v300.6h-1zM705 474.0h1v280.9h-1zM708 474.0h1v315.9h-1zM709 474.0h1v315.9h-1zM727 474.0h1v324.6h-1zM731 474.0h1v311.8h-1zM739 474.0h1v325.0h-1zM742 474.0h1v328.2h-1zM762 474.0h1v247.4h-1zM767 474.0h1v308.6h-1zM777 474.0h1v287.8h-1zM805 474.0h1v337.0h-1zM809 474.0h1v303.1h-1zM813 474.0h1v285.6h-1zM823 474.0h1v282.3h-1zM825 474.0h1v306.4h-1zM829 474.0h1v305.3h-1zM835 474.0h1v311.8h-1zM836 474.0h1v311.8h-1zM837 474.0h1v311.8h-1zM840 474.0h1v346.8h-1zM844 474.0h1v338.1h-1zM854 474.0h1v331.5h-1zM857 474.0h1v327.1h-1zM858 474.0h1v327.1h-1zM862 474.0h1v303.1h-1zM865 474.0h1v327.1h-1zM866 474.0h1v332.6h-1zM867 474.0h1v373.0h-1zM868 474.0h1v373.0h-1zM869 474.0h1v325.0h-1zM872 474.0h1v338.1h-1zM874 474.0h1v261.6h-1zM875 474.0h1v281.2h-1zM886 474.0h1v322.8h-1zM891 474.0h1v307.5h-1zM896 474.0h1v299.8h-1zM911 474.0h1v232.1h-1zM914 474.0h1v159.1h-1zM918 474.0h1v192.0h-1zM922 474.0h1v98.0h-1zM923 474.0h1v119.0h-1zM928 474.0h1v134.2h-1zM929 474.0h1v49.0h-1zM935 474.0h1v66.5h-1zM951 474.0h1v116.8h-1zM952 474.0h1v116.8h-1zM959 474.0h1v26.1h-1zM961 474.0h1v27.2h-1zM963 474.0h1v25.0h-1zM965 474.0h1v15.2h-1zM984 474.0h1v16.3h-1zM985 474.0h1v16.3h-1zM986 474.0h1v136.5h-1zM994 474.0h1v45.8h-1zM995 474.0h1v45.8h-1zM1009 474.0h1v115.7h-1zM1011 474.0h1v79.7h-1zM1013 474.0h1v79.7h-1zM1021 474.0h1v72.0h-1zM1043 474.0h1v9.7h-1zM1053 474.0h1v29.4h-1zM1054 474.0h1v29.4h-1zM1057 474.0h1v27.2h-1zM1065 474.0h1v11.9h-1zM1066 474.0h1v11.9h-1zM1068 474.0h1v9.7h-1zM1069 474.0h1v9.7h-1zM1080 474.0h1v1.0h-1zM1082 474.0h1v1.0h-1zM1087 474.0h1v30.5h-1zM1090 474.0h1v2.1h-1zM1103 474.0h1v40.3h-1zM1105 474.0h1v53.4h-1zM1108 474.0h1v45.8h-1zM1111 474.0h1v42.5h-1zM1133 474.0h1v49.1h-1zM1134 474.0h1v49.1h-1zM1142 474.0h1v33.8h-1zM1146 474.0h1v10.8h-1zM1150 474.0h1v26.1h-1zM1151 474.0h1v26.1h-1zM1153 474.0h1v7.5h-1zM1171 474.0h1v46.9h-1zM1172 474.0h1v45.8h-1zM1174 474.0h1v62.2h-1zM1178 474.0h1v26.1h-1zM1183 474.0h1v76.4h-1zM1190 474.0h1v17.4h-1zM1199 474.0h1v32.7h-1zM1204 474.0h1v20.6h-1zM1205 474.0h1v29.4h-1zM1207 474.0h1v44.7h-1zM1211 474.0h1v65.5h-1zM1216 474.0h1v123.4h-1zM1221 474.0h1v81.8h-1zM1222 474.0h1v61.1h-1zM1223 474.0h1v61.1h-1zM1226 474.0h1v35.9h-1zM1236 474.0h1v80.8h-1zM1239 474.0h1v61.1h-1zM1243 474.0h1v78.6h-1zM1244 474.0h1v68.7h-1zM1248 474.0h1v53.4h-1zM1264 474.0h1v61.1h-1zM1270 474.0h1v88.4h-1zM1277 474.0h1v85.1h-1zM1280 474.0h1v50.2h-1zM1281 474.0h1v84.0h-1zM1283 474.0h1v70.9h-1zM1291 474.0h1v105.9h-1zM1292 474.0h1v132.5h-1zM1302 474.0h1v97.1h-1zM1312 474.0h1v68.7h-1zM1315 474.0h1v66.5h-1zM1331 474.0h1v20.6h-1zM1332 474.0h1v11.8h-1zM1378 474.0h1v21.7h-1zM1380 474.0h1v9.7h-1zM1412 474.0h1v73.0h-1zM1443 474.0h1v59.9h-1zM1452 474.0h1v38.1h-1zM1456 474.0h1v62.1h-1z" fill="#f55b67"/>
<path d="M150 474.0h1v22.2h-1zM170 474.0h1v55.0h-1zM171 474.0h1v55.0h-1zM249 474.0h1v95.5h-1zM281 474.0h1v65.9h-1zM290 474.0h1v79.1h-1zM304 474.0h1v162.1h-1zM308 474.0h1v186.2h-1zM320 474.0h1v152.3h-1zM353 474.0h1v125.0h-1zM373 474.0h1v60.5h-1zM396 474.0h1v108.6h-1zM425 474.0h1v273.0h-1zM435 474.0h1v191.7h-1zM436 474.0h1v191.7h-1zM461 474.0h1v246.9h-1zM463 474.0h1v240.3h-1zM479 474.0h1v275.3h-1zM498 474.0h1v251.2h-1zM541 474.0h1v269.3h-1zM547 474.0h1v304.5h-1zM563 474.0h1v245.9h-1zM580 474.0h1v298.4h-1zM581 474.0h1v252.5h-1zM620 474.0h1v265.6h-1zM645 474.0h1v263.4h-1zM661 474.0h1v294.0h-1zM696 474.0h1v280.9h-1zM707 474.0h1v320.3h-1zM725 474.0h1v307.1h-1zM726 474.0h1v307.1h-1zM743 474.0h1v365.4h-1zM744 474.0h1v365.4h-1zM774 474.0h1v257.2h-1zM778 474.0h1v231.0h-1zM806 474.0h1v337.0h-1zM807 474.0h1v317.3h-1zM814 474.0h1v246.3h-1zM863 474.0h1v303.1h-1zM870 474.0h1v327.1h-1zM871 474.0h1v327.1h-1zM880 474.0h1v314.0h-1zM915 474.0h1v172.0h-1zM944 474.0h1v88.4h-1zM1063 474.0h1v37.0h-1zM1088 474.0h1v5.3h-1zM1089 474.0h1v5.3h-1zM1104 474.0h1v57.8h-1zM1137 474.0h1v26.1h-1zM1138 474.0h1v26.1h-1zM1170 474.0h1v46.9h-1zM1200 474.0h1v37.0h-1zM1212 474.0h1v42.5h-1zM1265 474.0h1v61.1h-1zM1341 474.0h1v96.0h-1zM1413 474.0h1v73.0h-1zM1453 474.0h1v38.1h-1zM1460 474.0h1v44.6h-1zM1461 474.0h1v44.6h-1z" fill="#f6636e"/>
<path d="M139.8 451.7h1.4v22.3h-1.4zM143.8 468.0h1.4v6.0h-1.4zM148.8 453.7h1.4v20.3h-1.4zM155.8 431.8h1.4v42.2h-1.4zM209.8 470.0h1.4v4.0h-1.4zM212.8 454.0h1.4v20.0h-1.4zM361.8 472.5h1.4v1.5h-1.4zM966.8 465.1h1.4v8.9h-1.4zM979.8 463.6h1.4v10.4h-1.4zM981.8 464.0h1.4v10.0h-1.4zM1033.8 471.7h1.4v2.3h-1.4zM1043.8 472.3h1.4v1.7h-1.4zM1047.8 456.0h1.4v18.0h-1.4zM1050.8 467.3h1.4v6.7h-1.4zM1070.8 446.6h1.4v27.4h-1.4zM1075.8 471.0h1.4v3.0h-1.4zM1080.8 455.7h1.4v18.3h-1.4zM1084.8 459.7h1.4v14.3h-1.4zM1090.8 442.2h1.4v31.8h-1.4zM1091.8 442.6h1.4v31.4h-1.4zM1092.8 401.8h1.4v72.2h-1.4zM1094.8 454.0h1.4v20.0h-1.4zM1095.8 454.0h1.4v20.0h-1.4zM1097.8 461.8h1.4v12.2h-1.4zM1098.8 461.8h1.4v12.2h-1.4zM1126.8 470.6h1.4v3.4h-1.4zM1134.8 452.0h1.4v22.0h-1.4zM1161.8 447.7h1.4v26.3h-1.4zM1324.8 472.7h1.4v1.3h-1.4zM1325.8 468.4h1.4v5.6h-1.4zM1326.8 410.4h1.4v63.6h-1.4zM1327.8 410.4h1.4v63.6h-1.4zM1333.8 449.8h1.4v24.2h-1.4zM1336.8 436.7h1.4v37.3h-1.4zM1341.8 453.1h1.4v20.9h-1.4zM1342.8 453.1h1.4v20.9h-1.4zM1343.8 450.9h1.4v23.1h-1.4zM1344.8 442.1h1.4v31.9h-1.4zM1345.8 442.1h1.4v31.9h-1.4zM1346.8 437.8h1.4v36.2h-1.4zM1347.8 437.8h1.4v36.2h-1.4zM1348.8 417.0h1.4v57.0h-1.4zM1349.8 378.7h1.4v95.3h-1.4zM1350.8 378.7h1.4v95.3h-1.4zM1351.8 442.1h1.4v31.9h-1.4zM1352.8 442.1h1.4v31.9h-1.4zM1353.8 437.8h1.4v36.2h-1.4zM1354.8 423.6h1.4v50.4h-1.4zM1355.8 423.6h1.4v50.4h-1.4zM1356.8 397.3h1.4v76.7h-1.4zM1357.8 397.3h1.4v76.7h-1.4zM1358.8 439.9h1.4v34.1h-1.4zM1359.8 439.9h1.4v34.1h-1.4zM1360.8 444.3h1.4v29.7h-1.4zM1361.8 408.3h1.4v65.7h-1.4zM1362.8 408.3h1.4v65.7h-1.4zM1363.8 439.9h1.4v34.1h-1.4zM1364.8 439.9h1.4v34.1h-1.4zM1365.8 417.0h1.4v57.0h-1.4zM1366.8 433.4h1.4v40.6h-1.4zM1367.8 433.4h1.4v40.6h-1.4zM1368.8 430.1h1.4v43.9h-1.4zM1369.8 430.1h1.4v43.9h-1.4zM1372.8 466.2h1.4v7.8h-1.4zM1375.8 402.8h1.4v71.2h-1.4zM1380.8 454.2h1.4v19.8h-1.4zM1390.8 453.1h1.4v20.9h-1.4zM1391.8 465.1h1.4v8.9h-1.4zM1392.8 465.1h1.4v8.9h-1.4zM1397.8 468.4h1.4v5.6h-1.4zM1403.8 468.4h1.4v5.6h-1.4zM1404.8 441.0h1.4v33.0h-1.4zM1405.8 426.8h1.4v47.2h-1.4zM1406.8 426.8h1.4v47.2h-1.4zM1407.8 460.7h1.4v13.3h-1.4zM1408.8 468.4h1.4v5.6h-1.4zM1409.8 468.4h1.4v5.6h-1.4zM1415.8 469.5h1.4v4.5h-1.4zM1416.8 469.5h1.4v4.5h-1.4zM1447.8 429.0h1.4v45.0h-1.4zM1479.8 465.1h1.4v8.9h-1.4zM1480.8 465.1h1.4v8.9h-1.4zM1481.8 411.1h1.4v62.9h-1.4zM1486.8 466.2h1.4v7.8h-1.4zM1492.8 409.3h1.4v64.7h-1.4zM1493.8 409.3h1.4v64.7h-1.4zM1494.8 383.1h1.4v90.9h-1.4zM1495.8 383.1h1.4v90.9h-1.4zM1496.8 401.5h1.4v72.5h-1.4z" fill="#3aab96"/>
<line x1="133.6" y1="603.5" x2="1497" y2="603.5" stroke="#000" stroke-opacity="0.035" stroke-width="1" stroke-dasharray="6.25,3.3125"/>
<line x1="133.6" y1="780.5" x2="1497" y2="780.5" stroke="#000" stroke-opacity="0.035" stroke-width="1" stroke-dasharray="6.25,3.3125"/>
<path fill="none" stroke="#000" stroke-width="1.75" stroke-linejoin="round" d="M133.3 532.3C133.6 533.9 134.9 543.9 135.5 544.3C136.0 544.8 137.1 536.7 137.7 535.6C138.2 534.4 139.3 534.3 139.8 535.6C140.4 536.9 141.4 544.0 142.0 545.4C142.6 546.9 143.5 541.4 144.2 546.5C144.9 551.6 146.8 579.3 147.5 583.7C148.2 588.0 149.1 577.5 149.7 579.3C150.3 581.0 151.4 590.9 151.9 596.8C152.3 602.6 152.5 622.4 153.0 623.0C153.4 623.6 154.6 607.0 155.1 601.1C155.7 595.3 156.7 580.5 157.3 579.3C157.9 578.1 158.9 587.6 159.5 592.4C160.1 597.2 161.3 614.2 161.7 615.4C162.1 616.5 162.4 598.7 162.8 601.1C163.2 603.6 164.1 633.9 164.5 633.9C165.0 633.9 165.6 604.4 166.1 601.1C166.6 597.9 167.7 612.5 168.3 609.9C168.8 607.3 169.7 584.1 170.4 581.5C171.2 578.9 173.0 588.2 173.7 590.2C174.4 592.3 175.2 600.6 175.9 596.8C176.6 593.0 178.4 571.0 179.2 561.8C180.0 552.6 181.3 527.9 182.0 527.9C182.8 527.9 184.0 549.1 184.6 561.8C185.3 574.5 186.2 621.5 186.8 623.0C187.4 624.5 188.4 580.6 189.0 572.7C189.6 564.9 190.6 562.5 191.2 564.0C191.8 565.4 193.1 582.5 193.8 583.7C194.6 584.8 196.0 576.2 196.7 572.7C197.3 569.2 198.4 584.8 198.9 557.4C199.3 530.1 199.6 386.1 199.9 367.4C200.3 348.8 201.1 417.1 201.7 417.7C202.3 418.3 203.7 379.5 204.3 371.8C205.0 364.1 206.1 369.1 206.5 359.8C206.9 350.5 207.2 308.6 207.6 301.9C208.0 295.2 209.3 309.2 209.8 309.5C210.3 309.8 210.9 304.2 211.3 304.0C211.7 303.9 212.2 294.1 212.6 308.4C213.0 322.7 213.7 396.9 214.2 411.1C214.6 425.4 215.1 419.6 215.7 415.5C216.3 411.4 217.9 385.1 218.5 380.5C219.1 376.0 219.6 387.8 220.1 381.6C220.5 375.5 221.3 338.7 221.8 334.6C222.3 330.6 223.0 350.7 223.6 351.0C224.1 351.3 225.1 334.4 225.7 336.8C226.4 339.3 227.7 367.6 228.4 369.6C229.0 371.7 230.0 354.8 230.5 352.1C231.1 349.5 232.1 349.7 232.7 349.9C233.3 350.2 234.3 351.1 234.9 354.3C235.5 357.5 236.7 373.1 237.1 374.0C237.5 374.9 237.8 361.9 238.2 360.9C238.6 359.9 239.8 367.5 240.4 366.3C241.0 365.2 242.0 351.7 242.6 352.1C243.2 352.6 244.2 368.9 244.8 369.6C245.3 370.3 246.4 355.7 246.9 357.6C247.4 359.5 247.9 379.6 248.5 383.8C249.1 388.1 250.6 389.4 251.3 389.3C252.0 389.1 252.8 383.3 253.5 382.7C254.2 382.1 256.0 382.3 256.8 384.9C257.5 387.5 258.4 398.6 259.0 402.4C259.5 406.2 260.0 414.8 260.7 413.3C261.4 411.9 263.3 404.3 264.4 391.5C265.5 378.7 268.1 322.8 268.8 317.2C269.5 311.5 269.3 345.4 269.9 348.9C270.5 352.3 272.4 348.1 273.2 343.4C273.9 338.7 274.8 315.6 275.4 313.9C275.9 312.1 277.0 329.5 277.5 330.3C278.1 331.0 279.2 318.8 279.7 319.3C280.2 319.9 280.8 333.2 281.3 334.6C281.7 336.1 282.4 329.4 283.0 330.3C283.6 331.1 284.8 329.0 285.6 341.2C286.4 353.4 288.3 408.7 289.1 422.1C290.0 435.5 291.5 440.9 292.2 441.7C292.8 442.6 293.4 428.3 293.9 428.6C294.5 428.9 295.5 440.4 296.1 443.9C296.7 447.4 297.8 449.6 298.3 454.9C298.8 460.1 299.6 476.9 299.9 483.1C300.3 489.4 300.6 500.2 301.0 501.7C301.5 503.2 302.6 496.8 303.2 494.0C303.8 491.3 304.8 483.0 305.4 480.9C306.0 478.9 307.0 478.2 307.6 478.7C308.2 479.3 309.2 492.9 309.8 485.3C310.3 477.7 311.2 430.2 311.9 422.1C312.5 413.9 314.2 426.9 314.7 424.3C315.2 421.6 315.4 404.4 315.8 402.4C316.2 400.4 317.4 413.8 318.0 409.0C318.6 404.2 319.6 370.1 320.2 366.3C320.7 362.6 321.6 381.9 322.3 380.5C323.1 379.2 324.6 357.4 325.6 356.5C326.6 355.6 329.0 370.4 330.0 374.0C331.0 377.6 332.6 383.0 333.3 383.5C334.0 384.0 334.9 381.7 335.5 378.0C336.0 374.4 337.1 360.8 337.7 356.2C338.2 351.5 339.4 347.1 339.8 343.1C340.3 339.0 340.6 327.3 340.9 325.6C341.3 323.8 342.2 330.2 342.7 329.9C343.2 329.7 344.4 321.8 344.9 323.4C345.4 325.0 346.0 339.9 346.4 342.0C346.8 344.0 347.4 338.0 347.9 338.7C348.4 339.4 349.6 349.2 350.1 347.4C350.6 345.7 351.3 329.4 351.9 325.6C352.4 321.8 353.5 320.5 354.0 319.0C354.6 317.6 355.5 317.0 356.2 314.6C357.0 312.3 358.8 307.9 359.5 301.5C360.2 295.1 361.2 269.2 361.7 266.6C362.2 263.9 362.8 275.9 363.2 281.9C363.7 287.8 364.5 311.7 365.0 311.4C365.4 311.1 366.1 282.4 366.7 279.7C367.3 276.9 368.7 287.4 369.3 290.6C370.0 293.8 370.9 299.1 371.5 303.7C372.1 308.4 373.0 318.4 373.7 325.6C374.4 332.7 376.4 360.8 377.0 357.3C377.6 353.8 378.1 305.0 378.5 299.3C379.0 293.7 379.7 306.5 380.3 314.6C380.9 322.8 382.3 356.3 382.9 360.5C383.5 364.8 384.2 346.8 384.6 346.3C385.1 345.9 386.0 357.3 386.4 357.3C386.8 357.3 387.4 347.1 387.9 346.3C388.4 345.6 389.5 349.0 390.1 351.8C390.7 354.6 391.9 368.3 392.3 367.1C392.7 365.9 393.0 346.4 393.4 343.1C393.8 339.7 395.0 342.6 395.6 342.0C396.2 341.4 397.2 342.8 397.8 338.7C398.3 334.6 399.2 314.9 399.9 311.4C400.7 307.9 402.5 311.9 403.2 312.5C404.0 313.0 404.7 315.4 405.4 315.7C406.1 316.0 407.7 314.5 408.3 314.6C408.8 314.8 409.3 312.0 409.8 316.8C410.3 321.6 411.4 346.0 412.0 350.7C412.6 355.4 413.7 349.6 414.2 351.8C414.6 354.0 415.2 367.2 415.7 367.1C416.1 367.0 416.8 351.9 417.4 350.7C418.0 349.5 419.3 353.0 420.1 358.4C420.8 363.8 422.4 382.1 422.9 391.1C423.4 400.2 423.6 421.9 424.0 426.1C424.4 430.3 425.6 422.0 426.2 422.8C426.8 423.7 427.8 432.7 428.4 432.7C428.9 432.7 429.7 421.1 430.1 422.8C430.5 424.6 431.1 445.1 431.6 445.8C432.1 446.5 433.2 430.3 433.8 428.3C434.4 426.3 435.6 426.3 436.0 430.5C436.4 434.7 436.6 454.7 437.1 460.0C437.6 465.3 439.2 466.5 439.8 470.0C440.5 473.5 441.5 483.3 442.0 486.4C442.5 489.5 443.0 493.7 443.6 493.0C444.1 492.2 445.6 482.2 446.4 480.9C447.2 479.6 448.7 484.6 449.2 483.1C449.8 481.7 450.3 471.7 450.8 470.0C451.3 468.3 452.3 464.3 453.0 470.0C453.6 475.7 455.2 506.6 455.8 512.6C456.4 518.6 456.8 512.9 457.3 514.8C457.8 516.7 458.8 527.4 459.5 526.8C460.2 526.2 462.2 508.4 462.8 510.4C463.4 512.5 463.5 531.8 463.9 542.1C464.2 552.5 464.9 585.1 465.4 588.0C465.9 590.9 467.0 566.9 467.6 564.0C468.2 561.1 469.1 574.2 469.8 566.2C470.5 558.2 472.0 510.9 472.6 503.9C473.3 496.9 474.2 512.7 474.8 513.7C475.4 514.7 476.3 508.3 477.0 511.5C477.7 514.7 479.1 534.0 479.8 537.8C480.6 541.5 481.8 540.4 482.5 539.9C483.1 539.5 484.1 534.3 484.6 534.5C485.2 534.6 485.8 542.1 486.4 541.0C487.0 540.0 488.3 530.3 489.0 526.8C489.7 523.3 491.1 515.4 491.9 514.8C492.6 514.2 493.7 519.7 494.5 522.5C495.3 525.2 497.1 530.8 497.8 535.6C498.4 540.4 498.6 556.5 499.5 558.5C500.4 560.6 503.4 553.5 504.3 550.9C505.2 548.3 506.0 539.4 506.5 538.9C507.0 538.3 507.8 548.1 508.3 546.5C508.7 544.9 509.8 527.1 510.2 526.8C510.6 526.5 510.7 533.0 511.3 544.3C511.9 555.7 514.0 602.9 514.8 612.1C515.6 621.3 516.9 610.5 517.4 613.2C517.9 615.8 518.4 629.8 518.5 631.7C518.6 633.7 518.0 627.6 518.1 627.7C518.2 627.8 519.3 625.0 519.6 632.7C519.9 640.4 519.9 671.4 520.1 685.5C520.3 699.6 521.0 733.6 521.4 738.3C521.7 743.0 522.2 722.7 522.6 720.7C523.1 718.7 524.1 721.4 524.6 723.2C525.1 725.1 525.9 734.9 526.4 734.5C526.9 734.2 527.7 721.9 528.2 720.7C528.7 719.5 529.7 722.4 530.2 725.7C530.6 729.1 531.0 735.1 531.4 745.9C531.8 756.6 532.7 803.5 533.2 806.2C533.7 808.9 534.7 773.1 535.2 766.0C535.7 758.8 536.4 750.1 537.0 752.7C537.6 755.3 539.2 781.1 539.8 785.5C540.5 789.9 541.4 781.9 542.0 785.5C542.7 789.2 544.2 811.1 544.9 812.8C545.5 814.6 546.4 802.0 547.0 798.6C547.7 795.3 549.0 790.3 549.7 787.7C550.3 785.1 551.3 778.7 551.9 779.0C552.4 779.3 553.0 791.1 553.6 789.9C554.2 788.7 555.8 771.4 556.7 770.2C557.5 769.1 559.3 780.9 560.2 781.1C561.0 781.4 562.1 776.6 562.8 772.4C563.4 768.2 564.2 753.0 565.0 749.5C565.8 746.0 568.1 744.0 568.9 746.2C569.7 748.4 570.5 761.6 571.1 765.8C571.7 770.1 573.0 777.0 573.7 777.9C574.4 778.7 575.6 774.7 576.3 772.4C577.1 770.1 578.4 762.7 579.2 760.4C580.0 758.1 581.6 757.1 582.5 754.9C583.3 752.7 585.0 745.0 585.7 744.0C586.5 743.0 587.0 748.6 587.9 747.3C588.8 746.0 591.3 734.3 592.3 734.2C593.3 734.0 594.5 741.8 595.6 746.2C596.7 750.5 599.4 765.5 600.4 766.9C601.4 768.4 602.4 759.7 603.2 757.1C604.0 754.5 605.6 749.5 606.5 747.3C607.4 745.1 609.0 745.8 609.8 740.7C610.6 735.6 611.9 712.4 612.6 709.0C613.4 705.7 614.6 717.8 615.2 715.6C615.9 713.4 616.7 696.1 617.4 692.6C618.2 689.1 619.8 686.6 620.7 689.3C621.6 692.1 623.1 711.3 624.0 713.4C624.9 715.4 626.3 706.0 627.3 704.6C628.2 703.3 629.7 703.7 631.0 703.6C632.3 703.4 636.0 701.2 637.1 703.6C638.2 705.9 638.6 719.4 639.3 721.0C640.0 722.6 641.8 711.9 642.6 715.6C643.3 719.2 644.3 743.8 644.8 748.4C645.2 752.9 645.6 751.2 646.3 749.5C647.0 747.7 649.3 738.0 650.2 735.2C651.2 732.5 652.5 733.6 653.5 728.7C654.5 723.7 656.8 700.4 657.9 698.1C658.9 695.8 660.4 707.7 661.1 711.2C661.9 714.7 663.1 723.7 663.8 724.3C664.4 724.9 665.3 716.2 666.0 715.6C666.6 715.0 668.0 719.1 668.8 719.9C669.6 720.8 670.7 722.1 671.6 722.1C672.6 722.1 674.8 717.6 676.0 719.9C677.2 722.3 679.8 739.0 680.8 739.6C681.8 740.2 682.9 728.4 683.4 724.3C684.0 720.2 684.6 710.8 685.2 709.0C685.8 707.3 687.1 711.1 687.8 711.2C688.5 711.3 689.5 707.2 690.2 710.1C690.9 713.0 692.1 730.0 692.8 733.1C693.6 736.1 695.4 731.6 696.1 733.1C696.8 734.5 697.2 744.6 697.9 744.0C698.5 743.4 700.3 726.6 701.1 728.7C702.0 730.7 703.6 756.8 704.4 759.3C705.3 761.8 706.4 749.3 707.5 747.3C708.6 745.2 711.5 747.5 712.5 744.0C713.6 740.5 714.6 724.0 715.4 721.0C716.1 718.1 717.3 721.8 718.0 722.1C718.7 722.4 719.9 713.8 720.6 723.2C721.3 732.7 722.8 785.4 723.4 793.2C724.1 800.9 725.0 789.2 725.6 781.1C726.3 773.1 727.9 736.2 728.5 733.1C729.1 729.9 729.5 758.1 730.0 757.4C730.5 756.7 731.5 733.8 732.2 727.9C732.8 722.1 734.2 720.1 734.8 713.7C735.4 707.3 736.0 685.5 736.6 680.0C737.1 674.5 738.2 672.6 738.7 672.3C739.3 672.1 740.1 681.3 740.5 677.8C740.9 674.3 741.4 651.7 742.0 646.1C742.7 640.6 744.6 636.3 745.3 636.3C746.0 636.3 746.9 642.2 747.5 646.1C748.1 650.1 749.1 663.5 749.7 665.8C750.3 668.1 751.3 668.3 751.9 663.6C752.4 658.9 753.5 635.5 754.0 630.8C754.6 626.2 755.2 626.6 755.8 628.6C756.4 630.7 757.5 642.6 758.4 646.1C759.3 649.6 761.5 656.6 762.3 654.9C763.2 653.1 764.3 635.9 765.0 633.0C765.6 630.1 766.6 635.2 767.2 633.0C767.7 630.8 768.8 618.8 769.3 616.6C769.9 614.4 770.9 613.6 771.5 616.6C772.1 619.7 773.2 633.0 773.7 639.6C774.2 646.1 775.0 667.7 775.5 665.8C775.9 663.9 776.5 628.0 777.0 625.4C777.5 622.7 778.7 644.2 779.2 646.1C779.7 648.0 780.3 637.5 780.7 639.6C781.1 641.6 781.9 658.4 782.5 661.4C783.0 664.5 784.2 656.3 784.6 662.5C785.1 668.8 785.2 701.9 785.7 708.3C786.3 714.6 788.0 708.7 788.6 710.4C789.2 712.2 789.6 715.5 790.1 721.4C790.6 727.2 791.8 752.3 792.3 754.2C792.8 756.0 793.4 739.5 793.8 735.6C794.3 731.6 795.0 726.1 795.6 724.6C796.1 723.2 797.2 727.0 797.8 724.6C798.3 722.3 798.9 708.9 799.5 707.2C800.1 705.4 801.5 710.9 802.1 711.5C802.8 712.1 803.8 710.4 804.3 711.5C804.8 712.7 805.5 720.3 806.1 720.3C806.6 720.3 807.8 713.9 808.3 711.5C808.7 709.2 809.4 707.0 809.8 702.8C810.1 698.6 810.4 690.8 810.9 680.0C811.3 669.2 812.4 632.3 813.1 622.1C813.7 611.9 815.2 604.4 815.9 603.5C816.6 602.6 817.7 611.3 818.5 615.5C819.3 619.7 821.0 631.3 821.8 635.2C822.6 639.1 823.6 645.0 824.4 645.0C825.2 645.0 827.3 633.9 827.9 635.2C828.6 636.5 829.0 652.5 829.5 654.9C829.9 657.2 830.5 650.9 831.0 652.7C831.4 654.4 832.3 666.8 832.7 668.0C833.2 669.1 834.0 661.1 834.5 661.4C835.0 661.7 836.0 664.6 836.4 670.2C836.9 675.7 837.7 693.2 838.2 702.8C838.7 712.4 839.9 733.2 840.4 742.1C840.8 751.0 841.1 768.6 841.5 769.5C841.9 770.3 842.7 751.3 843.2 748.7C843.7 746.1 844.9 752.7 845.4 749.8C845.9 746.9 846.4 731.8 846.9 726.8C847.5 721.9 849.2 713.1 849.8 712.6C850.4 712.2 850.8 724.1 851.3 723.6C851.8 723.0 852.8 720.6 853.5 708.3C854.2 695.9 855.8 628.1 856.3 630.8C856.9 633.6 857.5 720.0 857.9 729.0C858.3 738.0 859.0 700.0 859.4 698.4C859.8 696.8 860.5 725.7 861.1 717.0C861.8 708.3 863.7 648.1 864.4 633.0C865.2 617.9 866.1 601.5 866.6 603.5C867.1 605.5 867.7 645.2 868.1 648.3C868.6 651.4 869.2 630.5 869.9 626.4C870.6 622.4 872.4 618.9 873.2 617.7C873.9 616.5 874.7 622.2 875.4 617.7C876.0 613.2 877.5 585.9 878.2 583.8C878.9 581.8 879.9 602.6 880.4 602.4C880.9 602.3 881.6 583.8 881.9 582.7C882.3 581.7 882.4 594.6 883.0 594.8C883.6 594.9 885.6 585.4 886.3 583.8C887.0 582.2 888.0 579.8 888.5 582.7C889.0 585.6 889.6 606.3 890.0 605.7C890.4 605.1 891.3 578.8 891.7 578.4C892.2 577.9 892.9 594.5 893.5 602.4C894.1 610.3 895.9 633.3 896.6 637.4C897.3 641.5 898.1 639.0 898.7 633.0C899.4 627.0 900.9 598.1 901.6 592.6C902.3 587.0 903.1 596.4 903.8 591.5C904.4 586.5 905.9 558.9 906.6 555.4C907.3 551.9 908.2 571.4 908.8 565.2C909.4 559.1 910.6 512.4 911.4 509.5C912.2 506.6 913.9 538.9 914.7 543.4C915.5 547.9 916.8 541.8 917.5 543.4C918.3 545.0 919.5 554.4 920.2 555.4C920.8 556.4 921.8 550.6 922.3 551.0C922.9 551.5 924.0 558.1 924.5 558.7C925.1 559.3 926.0 557.2 926.7 555.4C927.4 553.7 929.3 543.5 930.0 545.6C930.7 547.7 931.7 569.5 932.2 571.1C932.7 572.8 933.5 555.0 933.9 558.0C934.4 561.1 935.0 594.4 935.5 594.1C936.0 593.8 937.1 563.6 937.7 555.8C938.2 548.1 939.3 540.1 939.8 536.2C940.4 532.2 941.4 526.9 942.0 526.3C942.7 525.8 944.1 527.0 944.9 531.8C945.6 536.6 946.8 554.0 947.5 562.4C948.1 570.9 949.1 590.5 949.7 595.2C950.3 599.9 951.3 599.1 951.9 597.4C952.4 595.6 953.3 581.5 954.0 582.1C954.8 582.7 956.4 603.6 957.3 601.7C958.2 599.9 959.9 571.4 960.6 567.9C961.3 564.4 962.1 571.9 962.8 575.5C963.5 579.2 965.0 592.6 966.1 595.2C967.1 597.8 969.6 600.7 970.4 595.2C971.3 589.7 972.2 547.2 972.6 553.7C973.1 560.1 973.3 629.4 973.7 643.7C974.2 658.1 975.3 653.0 975.9 661.2C976.5 669.4 977.4 698.9 978.1 704.9C978.8 710.9 980.6 701.9 981.4 706.0C982.1 710.1 983.0 729.3 983.6 735.5C984.1 741.8 985.0 753.6 985.7 753.0C986.5 752.4 988.0 735.4 989.0 731.1C990.0 726.9 992.5 725.2 993.4 721.3C994.3 717.4 995.3 699.2 996.0 701.6C996.7 704.1 998.0 734.5 998.9 739.9C999.7 745.3 1001.4 740.8 1002.1 742.1C1002.9 743.4 1003.7 749.6 1004.3 749.7C1005.0 749.9 1006.2 741.3 1006.9 743.2C1007.7 745.1 1009.0 759.3 1009.8 763.9C1010.6 768.6 1012.3 778.6 1013.1 778.1C1013.8 777.7 1015.0 763.1 1015.7 760.7C1016.4 758.2 1018.0 766.7 1018.5 759.6C1019.0 752.4 1018.9 714.1 1019.6 707.1C1020.3 700.1 1023.1 709.7 1024.0 707.1C1024.9 704.5 1025.7 691.8 1026.2 687.4C1026.7 683.1 1027.5 669.4 1027.9 674.3C1028.4 679.3 1028.9 717.7 1029.5 724.6C1030.0 731.4 1031.7 729.8 1032.3 725.7C1032.9 721.6 1033.2 698.5 1033.8 694.0C1034.5 689.5 1036.4 692.4 1037.1 691.8C1037.8 691.2 1038.3 687.4 1038.9 689.6C1039.4 691.8 1040.8 706.7 1041.5 708.2C1042.1 709.7 1042.9 702.1 1043.7 700.5C1044.4 698.9 1046.1 695.9 1046.9 696.2C1047.8 696.5 1049.0 700.7 1049.8 702.7C1050.6 704.8 1052.1 710.9 1052.8 711.5C1053.5 712.1 1054.4 703.0 1055.0 707.1C1055.7 711.2 1057.1 739.5 1057.9 742.1C1058.7 744.7 1060.3 727.8 1061.1 726.8C1062.0 725.8 1063.7 734.0 1064.4 734.4C1065.2 734.9 1065.9 730.8 1066.6 730.1C1067.3 729.3 1069.1 729.7 1069.9 729.0C1070.7 728.2 1071.7 729.5 1072.5 724.6C1073.3 719.6 1075.2 696.5 1076.0 691.8C1076.8 687.1 1077.9 687.3 1078.6 689.6C1079.3 691.9 1080.6 707.0 1081.3 709.3C1081.9 711.6 1082.9 706.4 1083.4 707.1C1084.0 707.8 1085.1 715.3 1085.6 714.8C1086.2 714.2 1086.5 706.8 1087.4 702.7C1088.3 698.7 1091.3 682.0 1092.2 684.2C1093.1 686.3 1093.3 714.0 1093.9 719.1C1094.6 724.2 1096.5 724.9 1097.2 722.4C1097.9 719.9 1098.7 703.3 1099.4 700.5C1100.1 697.8 1102.0 700.8 1102.7 701.6C1103.3 702.5 1103.9 708.1 1104.4 707.1C1105.0 706.1 1106.0 694.0 1106.6 694.0C1107.3 694.0 1108.4 705.4 1109.2 707.1C1110.0 708.9 1111.7 706.5 1112.5 707.1C1113.3 707.7 1114.6 711.8 1115.4 711.5C1116.1 711.2 1117.3 705.2 1118.0 704.9C1118.6 704.6 1119.3 710.2 1120.2 709.3C1121.0 708.4 1123.5 698.9 1124.5 698.4C1125.6 697.8 1126.9 704.9 1127.8 704.9C1128.8 704.9 1130.9 698.2 1131.7 698.4C1132.6 698.5 1133.6 704.7 1134.4 706.0C1135.2 707.3 1136.8 708.1 1137.7 708.2C1138.5 708.3 1140.1 707.0 1140.9 707.1C1141.7 707.2 1142.9 709.0 1143.6 708.9C1144.2 708.7 1145.0 706.7 1145.7 706.0C1146.5 705.3 1148.4 704.7 1149.2 703.8C1150.1 703.0 1151.2 700.8 1151.9 699.5C1152.5 698.1 1153.5 694.3 1154.0 694.0C1154.6 693.7 1155.1 697.9 1155.8 697.3C1156.5 696.7 1158.7 689.5 1159.5 689.6C1160.3 689.8 1161.0 697.5 1161.7 698.4C1162.4 699.2 1163.9 696.0 1164.5 696.2C1165.2 696.3 1166.3 701.6 1166.7 699.5C1167.1 697.3 1167.2 682.1 1167.6 679.8C1167.9 677.4 1168.9 681.8 1169.3 682.0C1169.8 682.1 1170.5 680.4 1171.1 680.9C1171.7 681.3 1173.1 684.8 1173.7 685.2C1174.4 685.7 1175.4 685.3 1175.9 684.2C1176.4 683.0 1177.0 677.7 1177.7 676.5C1178.3 675.3 1180.1 676.3 1180.7 675.4C1181.4 674.5 1181.9 672.1 1182.5 669.9C1183.0 667.8 1184.1 660.9 1184.6 659.0C1185.2 657.1 1185.9 655.4 1186.4 655.7C1186.9 656.0 1188.0 660.2 1188.6 661.2C1189.2 662.2 1190.1 663.0 1190.8 663.4C1191.4 663.8 1192.7 664.6 1193.4 664.5C1194.0 664.3 1195.1 662.0 1195.6 662.3C1196.0 662.6 1196.1 665.6 1196.7 666.7C1197.2 667.7 1198.6 669.7 1199.5 669.9C1200.4 670.2 1202.5 669.4 1203.2 668.9C1203.9 668.3 1204.3 667.0 1204.8 665.6C1205.2 664.1 1206.0 658.7 1206.5 657.9C1207.0 657.2 1207.8 658.9 1208.3 660.1C1208.7 661.3 1209.3 665.6 1209.8 666.7C1210.3 667.7 1211.4 666.9 1212.0 667.8C1212.6 668.6 1213.5 671.0 1214.2 673.2C1214.8 675.4 1216.3 682.6 1217.0 684.2C1217.7 685.8 1218.5 685.8 1219.2 685.2C1219.8 684.7 1221.1 680.4 1221.8 679.8C1222.5 679.2 1223.7 681.2 1224.4 680.9C1225.2 680.6 1226.7 677.2 1227.3 677.6C1227.8 678.0 1227.9 682.8 1228.4 684.2C1228.8 685.5 1230.0 683.4 1230.5 687.4C1231.1 691.5 1232.1 711.5 1232.7 714.8C1233.3 718.0 1234.3 712.1 1234.9 711.5C1235.6 710.9 1236.9 711.1 1237.5 710.4C1238.2 709.7 1239.1 707.9 1239.7 706.0C1240.4 704.1 1242.0 697.9 1242.6 696.2C1243.2 694.4 1243.6 693.5 1244.1 692.9C1244.6 692.3 1245.8 691.8 1246.3 691.8C1246.8 691.8 1247.7 693.0 1248.0 692.9C1248.4 692.8 1248.5 690.3 1249.1 690.7C1249.7 691.1 1251.7 693.7 1252.4 696.2C1253.1 698.7 1254.0 706.2 1254.6 709.3C1255.2 712.3 1256.2 720.0 1256.8 719.1C1257.4 718.3 1258.2 705.2 1259.0 702.7C1259.7 700.3 1261.6 707.7 1262.2 700.5C1262.9 693.4 1263.3 653.8 1263.8 649.2C1264.2 644.5 1265.1 663.2 1265.5 665.6C1266.0 667.9 1266.8 665.4 1267.3 666.7C1267.7 668.0 1268.3 675.7 1268.8 675.4C1269.3 675.1 1270.3 666.4 1271.0 664.5C1271.7 662.6 1273.7 660.9 1274.3 661.2C1274.8 661.5 1274.8 667.5 1275.4 666.7C1275.9 665.8 1277.6 655.2 1278.2 654.6C1278.8 654.1 1279.2 664.8 1279.7 662.3C1280.2 659.8 1281.4 637.5 1281.9 636.1C1282.4 634.6 1282.9 650.1 1283.4 651.4C1283.9 652.7 1285.1 645.3 1285.6 645.9C1286.2 646.5 1286.9 668.0 1287.4 655.7C1287.9 643.4 1289.0 572.5 1289.6 553.7C1290.1 534.8 1291.2 521.2 1291.7 514.3C1292.3 507.5 1293.3 502.6 1293.9 502.3C1294.6 502.0 1295.9 507.9 1296.6 512.1C1297.2 516.4 1298.2 535.7 1298.7 534.0C1299.3 532.2 1300.1 503.2 1300.9 499.0C1301.7 494.8 1304.0 500.0 1304.9 502.3C1305.7 504.6 1306.8 516.2 1307.5 516.5C1308.1 516.8 1309.0 506.4 1309.7 504.5C1310.3 502.6 1311.9 498.8 1312.5 502.3C1313.1 505.8 1313.5 529.3 1314.0 530.7C1314.5 532.2 1315.6 516.6 1316.2 513.2C1316.9 509.9 1318.4 507.6 1319.1 505.6C1319.7 503.5 1320.7 499.1 1321.3 497.9C1321.8 496.8 1323.1 504.9 1323.4 496.8C1323.8 488.8 1323.5 443.6 1323.8 437.8C1324.0 431.9 1324.8 451.3 1325.3 453.1C1325.8 454.8 1326.9 451.0 1327.5 450.9C1328.1 450.7 1329.1 450.2 1329.7 452.0C1330.3 453.7 1331.3 462.1 1331.9 464.0C1332.4 465.9 1333.2 463.8 1333.6 466.2C1334.0 468.5 1334.7 479.0 1335.1 481.5C1335.5 484.0 1336.2 485.3 1336.7 484.8C1337.1 484.2 1337.9 477.8 1338.4 477.1C1338.9 476.4 1340.0 481.3 1340.6 479.3C1341.2 477.2 1342.2 467.0 1342.8 461.8C1343.4 456.6 1344.4 443.4 1345.0 439.9C1345.5 436.4 1346.2 435.0 1346.7 435.6C1347.2 436.2 1348.4 439.9 1348.9 444.3C1349.4 448.7 1349.9 466.6 1350.4 468.4C1350.9 470.1 1352.0 460.9 1352.6 457.4C1353.2 453.9 1354.2 444.3 1354.8 442.1C1355.4 439.9 1356.4 439.9 1357.0 441.0C1357.6 442.2 1358.6 451.6 1359.2 450.9C1359.8 450.1 1360.8 436.2 1361.4 435.6C1361.9 435.0 1362.8 441.0 1363.6 446.5C1364.3 452.0 1366.1 469.2 1366.8 477.1C1367.6 485.0 1368.4 494.6 1369.0 505.5C1369.6 516.4 1370.6 556.3 1371.2 559.1C1371.8 561.8 1373.2 530.5 1373.8 526.3C1374.4 522.1 1375.0 524.9 1375.6 527.4C1376.1 529.9 1377.2 539.1 1377.8 544.9C1378.3 550.6 1378.9 569.8 1379.5 570.7C1380.1 571.5 1381.3 555.7 1382.1 551.4C1382.9 547.1 1384.7 538.2 1385.4 538.3C1386.1 538.5 1387.0 553.4 1387.6 552.5C1388.2 551.6 1389.1 532.2 1389.8 531.7C1390.5 531.3 1392.3 546.1 1393.1 549.2C1393.8 552.4 1395.0 554.5 1395.7 555.4C1396.4 556.2 1397.8 556.2 1398.5 555.4C1399.3 554.5 1400.6 553.5 1401.4 549.2C1402.2 544.9 1403.6 528.7 1404.4 523.0C1405.2 517.3 1406.7 503.7 1407.3 506.6C1407.9 509.5 1408.4 534.3 1408.8 544.9C1409.1 555.4 1409.5 581.9 1409.9 586.0C1410.3 590.0 1411.0 577.4 1411.6 575.0C1412.3 572.7 1414.2 569.2 1414.9 568.5C1415.6 567.7 1416.6 570.3 1417.1 569.6C1417.6 568.8 1418.2 561.7 1418.6 563.0C1419.1 564.3 1420.0 575.9 1420.4 579.4C1420.8 582.9 1421.1 584.3 1421.5 589.2C1421.9 594.2 1422.8 616.4 1423.2 616.6C1423.7 616.7 1424.3 593.8 1424.8 590.3C1425.2 586.8 1426.4 592.8 1426.9 590.3C1427.5 587.9 1428.7 572.5 1429.1 571.7C1429.6 571.0 1429.8 585.6 1430.2 584.9C1430.6 584.1 1431.5 571.4 1432.0 566.3C1432.4 561.2 1433.0 548.9 1433.5 546.6C1434.0 544.3 1435.2 546.2 1435.7 548.8C1436.2 551.4 1436.9 566.3 1437.4 566.3C1437.9 566.3 1438.9 554.6 1439.4 548.8C1439.9 543.0 1440.8 530.8 1441.1 523.0C1441.5 515.2 1441.8 495.2 1442.2 490.2C1442.7 485.3 1443.8 491.1 1444.4 485.8C1445.0 480.6 1446.0 463.7 1446.6 450.9C1447.2 438.1 1448.3 408.2 1448.8 390.0C1449.3 371.8 1450.1 341.4 1450.5 314.3C1450.9 287.2 1451.4 194.2 1451.7 186.8C1452.0 179.5 1452.4 249.0 1452.9 259.0C1453.4 268.9 1455.1 256.6 1455.8 261.4C1456.4 266.2 1457.2 289.7 1457.7 295.0C1458.2 300.3 1459.1 300.1 1459.6 301.0C1460.2 302.0 1461.4 301.1 1462.0 302.2C1462.7 303.4 1463.9 309.6 1464.4 309.5C1465.0 309.3 1465.7 300.2 1466.1 301.0C1466.5 301.8 1466.9 316.4 1467.3 315.5C1467.7 314.5 1468.7 297.0 1469.2 293.8C1469.8 290.6 1471.2 293.2 1471.7 291.4C1472.1 289.7 1472.2 282.5 1472.6 280.6C1473.0 278.7 1474.1 278.8 1474.5 277.0C1475.0 275.2 1475.4 267.5 1475.7 267.4C1476.1 267.2 1476.9 275.0 1477.4 275.8C1477.9 276.6 1478.8 272.1 1479.3 273.4C1479.9 274.7 1480.7 285.7 1481.3 285.4C1481.8 285.1 1483.1 271.6 1483.7 271.0C1484.2 270.3 1484.7 279.0 1485.4 280.6C1486.1 282.2 1488.2 280.4 1489.0 283.0C1489.7 285.6 1490.4 299.5 1490.9 299.8C1491.4 300.2 1492.0 288.0 1492.6 285.4C1493.1 282.8 1494.4 282.5 1495.0 280.6C1495.5 278.7 1496.3 275.3 1496.7 271.0C1497.0 266.7 1497.7 251.2 1497.9 248.1"/>
<rect x="675" y="24" width="15.5" height="15.5" fill="#17c784"/>
<text x="699.5" y="37.5" font-size="19" fill="#222" stroke="#222" stroke-width="0.3" textLength="120" lengthAdjust="spacingAndGlyphs">Premium Rate</text>
<rect x="841" y="24" width="15.5" height="15.5" fill="#000"/>
<text x="865.5" y="37.5" font-size="19" fill="#222" stroke="#222" stroke-width="0.3" textLength="81" lengthAdjust="spacingAndGlyphs">BTC Price</text>
<text x="50" y="82" font-size="19.5" fill="#111" stroke="#111" stroke-width="0.35" textLength="70" lengthAdjust="spacingAndGlyphs">0.1181%</text>
<text x="50" y="142" font-size="19.5" fill="#111" stroke="#111" stroke-width="0.35" textLength="70" lengthAdjust="spacingAndGlyphs">0.1000%</text>
<text x="50" y="311" font-size="19.5" fill="#111" stroke="#111" stroke-width="0.35" textLength="70" lengthAdjust="spacingAndGlyphs">0.0500%</text>
<text x="96.3" y="479.5" font-size="19.5" fill="#111" stroke="#111" stroke-width="0.35" textLength="23.7" lengthAdjust="spacingAndGlyphs">0%</text>
<text x="43" y="648" font-size="19.5" fill="#111" stroke="#111" stroke-width="0.35" textLength="77" lengthAdjust="spacingAndGlyphs">-0.0500%</text>
<text x="43" y="816" font-size="19.5" fill="#111" stroke="#111" stroke-width="0.35" textLength="77" lengthAdjust="spacingAndGlyphs">-0.1000%</text>
<text x="43" y="878" font-size="19.5" fill="#111" stroke="#111" stroke-width="0.35" textLength="77" lengthAdjust="spacingAndGlyphs">-0.1181%</text>
<text x="1512" y="82" font-size="19.5" fill="#111" stroke="#111" stroke-width="0.35" textLength="68" lengthAdjust="spacingAndGlyphs">$74.00K</text>
<text x="1512" y="257" font-size="19.5" fill="#111" stroke="#111" stroke-width="0.35" textLength="68" lengthAdjust="spacingAndGlyphs">$72.00K</text>
<text x="1512" y="433.3" font-size="19.5" fill="#111" stroke="#111" stroke-width="0.35" textLength="68" lengthAdjust="spacingAndGlyphs">$70.00K</text>
<text x="1512" y="610" font-size="19.5" fill="#111" stroke="#111" stroke-width="0.35" textLength="68" lengthAdjust="spacingAndGlyphs">$68.00K</text>
<text x="1512" y="786" font-size="19.5" fill="#111" stroke="#111" stroke-width="0.35" textLength="68" lengthAdjust="spacingAndGlyphs">$66.00K</text>
<text x="167.0" y="900" font-size="19.5" fill="#111" stroke="#111" stroke-width="0.35" textLength="57" lengthAdjust="spacingAndGlyphs">23 Mar</text>
<text x="242.7" y="900" font-size="19.5" fill="#111" stroke="#111" stroke-width="0.35" textLength="57" lengthAdjust="spacingAndGlyphs">24 Mar</text>
<text x="318.4" y="900" font-size="19.5" fill="#111" stroke="#111" stroke-width="0.35" textLength="57" lengthAdjust="spacingAndGlyphs">25 Mar</text>
<text x="394.1" y="900" font-size="19.5" fill="#111" stroke="#111" stroke-width="0.35" textLength="57" lengthAdjust="spacingAndGlyphs">26 Mar</text>
<text x="469.8" y="900" font-size="19.5" fill="#111" stroke="#111" stroke-width="0.35" textLength="57" lengthAdjust="spacingAndGlyphs">27 Mar</text>
<text x="545.5" y="900" font-size="19.5" fill="#111" stroke="#111" stroke-width="0.35" textLength="57" lengthAdjust="spacingAndGlyphs">28 Mar</text>
<text x="621.1" y="900" font-size="19.5" fill="#111" stroke="#111" stroke-width="0.35" textLength="57" lengthAdjust="spacingAndGlyphs">29 Mar</text>
<text x="696.8" y="900" font-size="19.5" fill="#111" stroke="#111" stroke-width="0.35" textLength="57" lengthAdjust="spacingAndGlyphs">30 Mar</text>
<text x="772.5" y="900" font-size="19.5" fill="#111" stroke="#111" stroke-width="0.35" textLength="57" lengthAdjust="spacingAndGlyphs">31 Mar</text>
<text x="848.2" y="900" font-size="19.5" fill="#111" stroke="#111" stroke-width="0.35" textLength="57" lengthAdjust="spacingAndGlyphs">31 Mar</text>
<text x="930.4" y="900" font-size="19.5" fill="#111" stroke="#111" stroke-width="0.35" textLength="44" lengthAdjust="spacingAndGlyphs">1 Apr</text>
<text x="1006.1" y="900" font-size="19.5" fill="#111" stroke="#111" stroke-width="0.35" textLength="44" lengthAdjust="spacingAndGlyphs">2 Apr</text>
<text x="1081.8" y="900" font-size="19.5" fill="#111" stroke="#111" stroke-width="0.35" textLength="44" lengthAdjust="spacingAndGlyphs">3 Apr</text>
<text x="1157.5" y="900" font-size="19.5" fill="#111" stroke="#111" stroke-width="0.35" textLength="44" lengthAdjust="spacingAndGlyphs">4 Apr</text>
<text x="1233.2" y="900" font-size="19.5" fill="#111" stroke="#111" stroke-width="0.35" textLength="44" lengthAdjust="spacingAndGlyphs">5 Apr</text>
<text x="1308.8" y="900" font-size="19.5" fill="#111" stroke="#111" stroke-width="0.35" textLength="44" lengthAdjust="spacingAndGlyphs">6 Apr</text>
<text x="1384.5" y="900" font-size="19.5" fill="#111" stroke="#111" stroke-width="0.35" textLength="44" lengthAdjust="spacingAndGlyphs">7 Apr</text>
<text x="1460.2" y="900" font-size="19.5" fill="#111" stroke="#111" stroke-width="0.35" textLength="44" lengthAdjust="spacingAndGlyphs">8 Apr</text>
<g fill="#c9c9c9"><rect x="1336.2" y="812.6" width="4.6" height="8" rx="1.8"/><rect x="1352.2" y="812.6" width="4.6" height="8" rx="1.8"/><rect x="1337.5" y="813.8" width="18" height="10" rx="3"/><ellipse cx="1346" cy="828" rx="13.5" ry="12.5"/><rect x="1328" y="817.5" width="36" height="8" rx="4"/><ellipse cx="1346" cy="842" rx="12" ry="6.5"/><rect x="1338" y="843" width="16.5" height="10" rx="3"/><path d="M1333 852.5 L1339 847.5 L1340 849 Z"/></g>
<text x="1372.5" y="842" font-size="29" font-weight="bold" fill="#c9c9c9" textLength="114" lengthAdjust="spacingAndGlyphs">coinglass</text>
<rect x="396" y="904" width="1106.5" height="11" fill="#edf2fd"/>
</svg></body></html>
